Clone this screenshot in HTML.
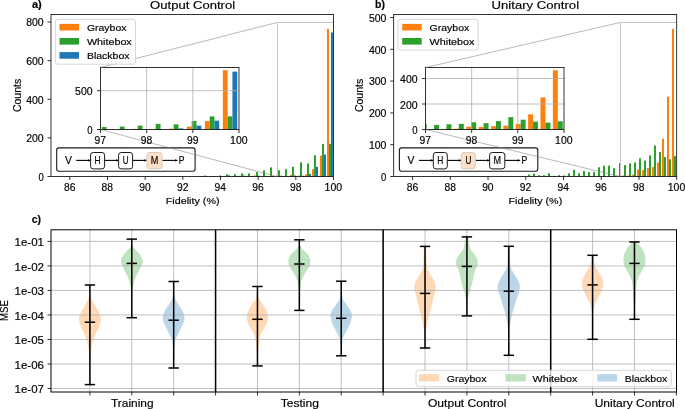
<!DOCTYPE html>
<html><head><meta charset="utf-8"><style>
html,body{margin:0;padding:0;background:#fff;}
svg{display:block;}
text{font-family:"Liberation Sans",sans-serif;fill:#000;stroke:#000;stroke-width:0.18px;}
</style></head><body>
<svg width="685" height="409" viewBox="0 0 685 409">
<rect width="685" height="409" fill="#fff"/>
<rect x="327.00" y="28.97" width="2.00" height="147.53" fill="#ff7f0e"/>
<rect x="329.00" y="143.87" width="2.00" height="32.63" fill="#2ca02c"/>
<rect x="331.00" y="32.45" width="2.00" height="144.05" fill="#1f77b4"/>
<rect x="320.00" y="155.65" width="2.00" height="20.85" fill="#ff7f0e"/>
<rect x="322.00" y="143.87" width="2.00" height="32.63" fill="#2ca02c"/>
<rect x="324.00" y="154.49" width="2.00" height="22.01" fill="#1f77b4"/>
<rect x="312.00" y="169.16" width="2.00" height="7.34" fill="#ff7f0e"/>
<rect x="314.00" y="155.26" width="2.00" height="21.24" fill="#2ca02c"/>
<rect x="316.00" y="166.84" width="2.00" height="9.66" fill="#1f77b4"/>
<rect x="305.00" y="174.38" width="2.00" height="2.12" fill="#ff7f0e"/>
<rect x="307.00" y="163.56" width="2.00" height="12.94" fill="#2ca02c"/>
<rect x="309.00" y="173.80" width="2.00" height="2.70" fill="#1f77b4"/>
<rect x="298.00" y="175.53" width="2.00" height="0.97" fill="#ff7f0e"/>
<rect x="300.00" y="162.40" width="2.00" height="14.10" fill="#2ca02c"/>
<rect x="302.00" y="175.73" width="2.00" height="0.77" fill="#1f77b4"/>
<rect x="290.00" y="174.96" width="2.00" height="1.54" fill="#ff7f0e"/>
<rect x="292.00" y="166.84" width="2.00" height="9.66" fill="#2ca02c"/>
<rect x="294.00" y="175.53" width="2.00" height="0.97" fill="#1f77b4"/>
<rect x="283.00" y="176.11" width="2.00" height="0.39" fill="#ff7f0e"/>
<rect x="285.00" y="169.16" width="2.00" height="7.34" fill="#2ca02c"/>
<rect x="287.00" y="176.11" width="2.00" height="0.39" fill="#1f77b4"/>
<rect x="276.00" y="175.53" width="2.00" height="0.97" fill="#ff7f0e"/>
<rect x="278.00" y="170.32" width="2.00" height="6.18" fill="#2ca02c"/>
<rect x="280.00" y="175.73" width="2.00" height="0.77" fill="#1f77b4"/>
<rect x="268.00" y="176.11" width="2.00" height="0.39" fill="#ff7f0e"/>
<rect x="270.00" y="167.42" width="2.00" height="9.08" fill="#2ca02c"/>
<rect x="272.00" y="175.92" width="2.00" height="0.58" fill="#1f77b4"/>
<rect x="261.00" y="176.11" width="2.00" height="0.39" fill="#ff7f0e"/>
<rect x="263.00" y="170.32" width="2.00" height="6.18" fill="#2ca02c"/>
<rect x="265.00" y="175.92" width="2.00" height="0.58" fill="#1f77b4"/>
<rect x="254.00" y="175.34" width="2.00" height="1.16" fill="#ff7f0e"/>
<rect x="256.00" y="172.06" width="2.00" height="4.44" fill="#2ca02c"/>
<rect x="258.00" y="175.73" width="2.00" height="0.77" fill="#1f77b4"/>
<rect x="246.00" y="176.11" width="2.00" height="0.39" fill="#ff7f0e"/>
<rect x="248.00" y="173.41" width="2.00" height="3.09" fill="#2ca02c"/>
<rect x="250.00" y="175.92" width="2.00" height="0.58" fill="#1f77b4"/>
<rect x="239.00" y="175.73" width="2.00" height="0.77" fill="#ff7f0e"/>
<rect x="241.00" y="173.41" width="2.00" height="3.09" fill="#2ca02c"/>
<rect x="243.00" y="175.53" width="2.00" height="0.97" fill="#1f77b4"/>
<rect x="232.00" y="176.11" width="2.00" height="0.39" fill="#ff7f0e"/>
<rect x="234.00" y="174.18" width="2.00" height="2.32" fill="#2ca02c"/>
<rect x="236.00" y="175.92" width="2.00" height="0.58" fill="#1f77b4"/>
<rect x="224.00" y="176.11" width="2.00" height="0.39" fill="#ff7f0e"/>
<rect x="226.00" y="174.38" width="2.00" height="2.12" fill="#2ca02c"/>
<rect x="228.00" y="175.34" width="2.00" height="1.16" fill="#1f77b4"/>
<rect x="217.00" y="176.31" width="2.00" height="0.19" fill="#ff7f0e"/>
<rect x="219.00" y="175.53" width="2.00" height="0.97" fill="#2ca02c"/>
<rect x="221.00" y="176.11" width="2.00" height="0.39" fill="#1f77b4"/>
<rect x="210.00" y="176.31" width="2.00" height="0.19" fill="#ff7f0e"/>
<rect x="212.00" y="176.11" width="2.00" height="0.39" fill="#2ca02c"/>
<rect x="214.00" y="176.31" width="2.00" height="0.19" fill="#1f77b4"/>
<rect x="202.00" y="176.31" width="2.00" height="0.19" fill="#ff7f0e"/>
<rect x="204.00" y="175.53" width="2.00" height="0.97" fill="#2ca02c"/>
<rect x="206.00" y="176.31" width="2.00" height="0.19" fill="#1f77b4"/>
<rect x="197.00" y="176.31" width="2.00" height="0.19" fill="#2ca02c"/>
<rect x="199.00" y="176.31" width="2.00" height="0.19" fill="#1f77b4"/>
<rect x="190.00" y="176.31" width="2.00" height="0.19" fill="#2ca02c"/>
<rect x="175.00" y="176.31" width="2.00" height="0.19" fill="#2ca02c"/>
<rect x="160.00" y="176.31" width="2.00" height="0.19" fill="#2ca02c"/>
<rect x="153.00" y="176.31" width="2.00" height="0.19" fill="#2ca02c"/>
<rect x="146.00" y="176.31" width="2.00" height="0.19" fill="#2ca02c"/>
<rect x="138.00" y="176.31" width="2.00" height="0.19" fill="#2ca02c"/>
<rect x="131.00" y="176.31" width="2.00" height="0.19" fill="#2ca02c"/>
<rect x="116.00" y="176.11" width="2.00" height="0.39" fill="#2ca02c"/>
<rect x="109.00" y="176.31" width="2.00" height="0.19" fill="#2ca02c"/>
<rect x="80.00" y="176.31" width="2.00" height="0.19" fill="#2ca02c"/>
<rect x="65.00" y="176.31" width="2.00" height="0.19" fill="#2ca02c"/>
<path d="M277.50,176.50 L277.50,22.50 L333.50,22.50" fill="none" stroke="#c4c4c4" stroke-width="1"/>
<rect x="51.00" y="14.50" width="282.50" height="162.00" fill="none" stroke="#000" stroke-width="0.8"/>
<line x1="69.83" y1="176.50" x2="69.83" y2="180.00" stroke="#000" stroke-width="0.8" />
<line x1="107.50" y1="176.50" x2="107.50" y2="180.00" stroke="#000" stroke-width="0.8" />
<line x1="145.16" y1="176.50" x2="145.16" y2="180.00" stroke="#000" stroke-width="0.8" />
<line x1="182.83" y1="176.50" x2="182.83" y2="180.00" stroke="#000" stroke-width="0.8" />
<line x1="220.50" y1="176.50" x2="220.50" y2="180.00" stroke="#000" stroke-width="0.8" />
<line x1="258.16" y1="176.50" x2="258.16" y2="180.00" stroke="#000" stroke-width="0.8" />
<line x1="295.83" y1="176.50" x2="295.83" y2="180.00" stroke="#000" stroke-width="0.8" />
<line x1="333.50" y1="176.50" x2="333.50" y2="180.00" stroke="#000" stroke-width="0.8" />
<line x1="47.50" y1="176.50" x2="51.00" y2="176.50" stroke="#000" stroke-width="0.8" />
<line x1="47.50" y1="137.88" x2="51.00" y2="137.88" stroke="#000" stroke-width="0.8" />
<line x1="47.50" y1="99.26" x2="51.00" y2="99.26" stroke="#000" stroke-width="0.8" />
<line x1="47.50" y1="60.64" x2="51.00" y2="60.64" stroke="#000" stroke-width="0.8" />
<line x1="47.50" y1="22.02" x2="51.00" y2="22.02" stroke="#000" stroke-width="0.8" />
<rect x="100.50" y="67.50" width="138.50" height="62.00" fill="#fff" />
<rect x="222.83" y="70.21" width="4.79" height="59.29" fill="#ff7f0e"/>
<rect x="227.63" y="116.39" width="4.79" height="13.11" fill="#2ca02c"/>
<rect x="232.42" y="71.61" width="4.79" height="57.89" fill="#1f77b4"/>
<rect x="204.86" y="121.12" width="4.79" height="8.38" fill="#ff7f0e"/>
<rect x="209.65" y="116.39" width="4.79" height="13.11" fill="#2ca02c"/>
<rect x="214.45" y="120.65" width="4.79" height="8.85" fill="#1f77b4"/>
<rect x="186.89" y="126.55" width="4.79" height="2.95" fill="#ff7f0e"/>
<rect x="191.68" y="120.96" width="4.79" height="8.54" fill="#2ca02c"/>
<rect x="196.47" y="125.62" width="4.79" height="3.88" fill="#1f77b4"/>
<rect x="168.91" y="128.65" width="4.79" height="0.85" fill="#ff7f0e"/>
<rect x="173.70" y="124.30" width="4.79" height="5.20" fill="#2ca02c"/>
<rect x="178.50" y="128.41" width="4.79" height="1.09" fill="#1f77b4"/>
<rect x="150.94" y="129.11" width="4.79" height="0.39" fill="#ff7f0e"/>
<rect x="155.73" y="123.84" width="4.79" height="5.66" fill="#2ca02c"/>
<rect x="160.52" y="129.19" width="4.79" height="0.31" fill="#1f77b4"/>
<rect x="132.96" y="128.88" width="4.79" height="0.62" fill="#ff7f0e"/>
<rect x="137.76" y="125.62" width="4.79" height="3.88" fill="#2ca02c"/>
<rect x="142.55" y="129.11" width="4.79" height="0.39" fill="#1f77b4"/>
<rect x="114.99" y="129.34" width="4.79" height="0.16" fill="#ff7f0e"/>
<rect x="119.78" y="126.55" width="4.79" height="2.95" fill="#2ca02c"/>
<rect x="124.58" y="129.34" width="4.79" height="0.16" fill="#1f77b4"/>
<rect x="100.50" y="129.11" width="1.31" height="0.39" fill="#ff7f0e"/>
<rect x="101.81" y="127.02" width="4.79" height="2.48" fill="#2ca02c"/>
<rect x="106.60" y="129.19" width="4.79" height="0.31" fill="#1f77b4"/>
<line x1="146.67" y1="67.50" x2="146.67" y2="129.50" stroke="#b0b0b0" stroke-width="0.8" />
<line x1="192.84" y1="67.50" x2="192.84" y2="129.50" stroke="#b0b0b0" stroke-width="0.8" />
<line x1="100.50" y1="90.70" x2="239.00" y2="90.70" stroke="#b0b0b0" stroke-width="0.8" />
<rect x="100.50" y="67.50" width="138.50" height="62.00" fill="none" stroke="#000" stroke-width="0.8"/>
<line x1="100.50" y1="129.50" x2="100.50" y2="133.00" stroke="#000" stroke-width="0.8" />
<line x1="146.67" y1="129.50" x2="146.67" y2="133.00" stroke="#000" stroke-width="0.8" />
<line x1="192.84" y1="129.50" x2="192.84" y2="133.00" stroke="#000" stroke-width="0.8" />
<line x1="239.01" y1="129.50" x2="239.01" y2="133.00" stroke="#000" stroke-width="0.8" />
<line x1="97.00" y1="129.50" x2="100.50" y2="129.50" stroke="#000" stroke-width="0.8" />
<line x1="97.00" y1="90.70" x2="100.50" y2="90.70" stroke="#000" stroke-width="0.8" />
<rect x="56.70" y="147.9" width="138.40" height="23.4" rx="2.2" fill="#fff" stroke="#1a1a1a" stroke-width="1.1"/>
<line x1="76.20" y1="160.40" x2="90.10" y2="160.40" stroke="#000" stroke-width="1.1" />
<path d="M88.00,159.30 L91.10,160.4 L88.00,161.50 Z" fill="#000"/>
<line x1="104.60" y1="160.40" x2="118.10" y2="160.40" stroke="#000" stroke-width="1.1" />
<path d="M116.00,159.30 L119.10,160.4 L116.00,161.50 Z" fill="#000"/>
<line x1="132.60" y1="160.40" x2="146.40" y2="160.40" stroke="#000" stroke-width="1.1" />
<path d="M144.30,159.30 L147.40,160.4 L144.30,161.50 Z" fill="#000"/>
<line x1="162.10" y1="160.40" x2="177.10" y2="160.40" stroke="#000" stroke-width="1.1" />
<path d="M175.00,159.30 L178.10,160.4 L175.00,161.50 Z" fill="#000"/>
<rect x="90.60" y="152.5" width="14.00" height="16.4" rx="2.6" fill="#fff" stroke="#1a1a1a" stroke-width="1.0"/>
<rect x="118.60" y="152.5" width="14.00" height="16.4" rx="2.6" fill="#fff" stroke="#1a1a1a" stroke-width="1.0"/>
<rect x="146.90" y="152.5" width="15.20" height="16.4" rx="2.6" fill="#fde0c6" stroke="#cfc7c0" stroke-width="0.9"/>
<line x1="100.50" y1="67.50" x2="277.00" y2="22.50" stroke="#808080" stroke-width="0.55"/>
<line x1="100.50" y1="129.50" x2="277.00" y2="176.50" stroke="#808080" stroke-width="0.55"/>
<rect x="55.30" y="19.3" width="80.2" height="44.90" rx="2.5" fill="#fff" fill-opacity="0.8" stroke="#cccccc" stroke-width="0.8"/>
<rect x="59.50" y="23.90" width="19.50" height="6.60" fill="#ff7f0e" />
<rect x="59.50" y="38.00" width="19.50" height="6.60" fill="#2ca02c" />
<rect x="59.50" y="52.10" width="19.50" height="6.60" fill="#1f77b4" />
<rect x="672.00" y="28.95" width="2.00" height="147.55" fill="#ff7f0e"/>
<rect x="674.00" y="156.15" width="2.00" height="20.35" fill="#2ca02c"/>
<rect x="667.00" y="96.68" width="2.00" height="79.82" fill="#ff7f0e"/>
<rect x="669.00" y="159.33" width="2.00" height="17.17" fill="#2ca02c"/>
<rect x="662.00" y="138.66" width="2.00" height="37.84" fill="#ff7f0e"/>
<rect x="664.00" y="157.10" width="2.00" height="19.40" fill="#2ca02c"/>
<rect x="657.00" y="162.51" width="2.00" height="13.99" fill="#ff7f0e"/>
<rect x="659.00" y="152.01" width="2.00" height="24.49" fill="#2ca02c"/>
<rect x="652.00" y="166.96" width="2.00" height="9.54" fill="#ff7f0e"/>
<rect x="654.00" y="145.65" width="2.00" height="30.85" fill="#2ca02c"/>
<rect x="647.00" y="168.23" width="2.00" height="8.27" fill="#ff7f0e"/>
<rect x="649.00" y="155.51" width="2.00" height="20.99" fill="#2ca02c"/>
<rect x="642.00" y="170.14" width="2.00" height="6.36" fill="#ff7f0e"/>
<rect x="644.00" y="160.60" width="2.00" height="15.90" fill="#2ca02c"/>
<rect x="637.00" y="169.50" width="2.00" height="7.00" fill="#ff7f0e"/>
<rect x="639.00" y="158.37" width="2.00" height="18.13" fill="#2ca02c"/>
<rect x="632.00" y="174.59" width="2.00" height="1.91" fill="#ff7f0e"/>
<rect x="634.00" y="162.51" width="2.00" height="13.99" fill="#2ca02c"/>
<rect x="627.00" y="175.55" width="2.00" height="0.95" fill="#ff7f0e"/>
<rect x="629.00" y="163.46" width="2.00" height="13.04" fill="#2ca02c"/>
<rect x="622.00" y="175.55" width="2.00" height="0.95" fill="#ff7f0e"/>
<rect x="624.00" y="165.05" width="2.00" height="11.45" fill="#2ca02c"/>
<rect x="617.00" y="175.86" width="2.00" height="0.64" fill="#ff7f0e"/>
<rect x="619.00" y="163.14" width="2.00" height="13.36" fill="#2ca02c"/>
<rect x="611.00" y="176.18" width="2.00" height="0.32" fill="#ff7f0e"/>
<rect x="613.00" y="168.23" width="2.00" height="8.27" fill="#2ca02c"/>
<rect x="608.00" y="165.69" width="2.00" height="10.81" fill="#2ca02c"/>
<rect x="603.00" y="165.69" width="2.00" height="10.81" fill="#2ca02c"/>
<rect x="598.00" y="167.28" width="2.00" height="9.22" fill="#2ca02c"/>
<rect x="593.00" y="172.05" width="2.00" height="4.45" fill="#2ca02c"/>
<rect x="588.00" y="172.05" width="2.00" height="4.45" fill="#2ca02c"/>
<rect x="583.00" y="171.09" width="2.00" height="5.41" fill="#2ca02c"/>
<rect x="578.00" y="173.32" width="2.00" height="3.18" fill="#2ca02c"/>
<rect x="573.00" y="169.82" width="2.00" height="6.68" fill="#2ca02c"/>
<rect x="568.00" y="173.32" width="2.00" height="3.18" fill="#2ca02c"/>
<rect x="563.00" y="175.55" width="2.00" height="0.95" fill="#2ca02c"/>
<rect x="558.00" y="175.23" width="2.00" height="1.27" fill="#2ca02c"/>
<rect x="553.00" y="175.86" width="2.00" height="0.64" fill="#2ca02c"/>
<rect x="548.00" y="173.32" width="2.00" height="3.18" fill="#2ca02c"/>
<rect x="543.00" y="175.23" width="2.00" height="1.27" fill="#2ca02c"/>
<rect x="538.00" y="175.23" width="2.00" height="1.27" fill="#2ca02c"/>
<rect x="533.00" y="173.64" width="2.00" height="2.86" fill="#2ca02c"/>
<rect x="528.00" y="174.59" width="2.00" height="1.91" fill="#2ca02c"/>
<rect x="522.00" y="175.86" width="2.00" height="0.64" fill="#2ca02c"/>
<rect x="517.00" y="176.18" width="2.00" height="0.32" fill="#2ca02c"/>
<rect x="507.00" y="176.18" width="2.00" height="0.32" fill="#2ca02c"/>
<rect x="502.00" y="176.18" width="2.00" height="0.32" fill="#2ca02c"/>
<rect x="482.00" y="176.18" width="2.00" height="0.32" fill="#2ca02c"/>
<path d="M620.50,176.50 L620.50,22.50 L676.70,22.50" fill="none" stroke="#c4c4c4" stroke-width="1"/>
<rect x="393.70" y="14.50" width="283.00" height="162.00" fill="none" stroke="#000" stroke-width="0.8"/>
<line x1="412.57" y1="176.50" x2="412.57" y2="180.00" stroke="#000" stroke-width="0.8" />
<line x1="450.30" y1="176.50" x2="450.30" y2="180.00" stroke="#000" stroke-width="0.8" />
<line x1="488.03" y1="176.50" x2="488.03" y2="180.00" stroke="#000" stroke-width="0.8" />
<line x1="525.77" y1="176.50" x2="525.77" y2="180.00" stroke="#000" stroke-width="0.8" />
<line x1="563.50" y1="176.50" x2="563.50" y2="180.00" stroke="#000" stroke-width="0.8" />
<line x1="601.24" y1="176.50" x2="601.24" y2="180.00" stroke="#000" stroke-width="0.8" />
<line x1="638.97" y1="176.50" x2="638.97" y2="180.00" stroke="#000" stroke-width="0.8" />
<line x1="676.70" y1="176.50" x2="676.70" y2="180.00" stroke="#000" stroke-width="0.8" />
<line x1="390.20" y1="176.50" x2="393.70" y2="176.50" stroke="#000" stroke-width="0.8" />
<line x1="390.20" y1="144.70" x2="393.70" y2="144.70" stroke="#000" stroke-width="0.8" />
<line x1="390.20" y1="112.90" x2="393.70" y2="112.90" stroke="#000" stroke-width="0.8" />
<line x1="390.20" y1="81.10" x2="393.70" y2="81.10" stroke="#000" stroke-width="0.8" />
<line x1="390.20" y1="49.30" x2="393.70" y2="49.30" stroke="#000" stroke-width="0.8" />
<line x1="390.20" y1="17.50" x2="393.70" y2="17.50" stroke="#000" stroke-width="0.8" />
<rect x="425.50" y="67.50" width="138.50" height="62.00" fill="#fff" />
<rect x="552.87" y="70.34" width="4.95" height="59.16" fill="#ff7f0e"/>
<rect x="557.82" y="121.34" width="4.95" height="8.16" fill="#2ca02c"/>
<rect x="540.50" y="97.50" width="4.95" height="32.00" fill="#ff7f0e"/>
<rect x="545.45" y="122.61" width="4.95" height="6.89" fill="#2ca02c"/>
<rect x="528.13" y="114.33" width="4.95" height="15.17" fill="#ff7f0e"/>
<rect x="533.08" y="121.72" width="4.95" height="7.78" fill="#2ca02c"/>
<rect x="515.75" y="123.89" width="4.95" height="5.61" fill="#ff7f0e"/>
<rect x="520.70" y="119.68" width="4.95" height="9.82" fill="#2ca02c"/>
<rect x="503.38" y="125.67" width="4.95" height="3.83" fill="#ff7f0e"/>
<rect x="508.33" y="117.13" width="4.95" height="12.37" fill="#2ca02c"/>
<rect x="491.01" y="126.19" width="4.95" height="3.31" fill="#ff7f0e"/>
<rect x="495.96" y="121.08" width="4.95" height="8.42" fill="#2ca02c"/>
<rect x="478.63" y="126.95" width="4.95" height="2.55" fill="#ff7f0e"/>
<rect x="483.58" y="123.12" width="4.95" height="6.38" fill="#2ca02c"/>
<rect x="466.26" y="126.69" width="4.95" height="2.81" fill="#ff7f0e"/>
<rect x="471.21" y="122.23" width="4.95" height="7.27" fill="#2ca02c"/>
<rect x="453.89" y="128.74" width="4.95" height="0.76" fill="#ff7f0e"/>
<rect x="458.83" y="123.89" width="4.95" height="5.61" fill="#2ca02c"/>
<rect x="441.51" y="129.12" width="4.95" height="0.38" fill="#ff7f0e"/>
<rect x="446.46" y="124.27" width="4.95" height="5.23" fill="#2ca02c"/>
<rect x="429.14" y="129.12" width="4.95" height="0.38" fill="#ff7f0e"/>
<rect x="434.09" y="124.91" width="4.95" height="4.59" fill="#2ca02c"/>
<rect x="425.50" y="124.14" width="1.16" height="5.36" fill="#2ca02c"/>
<line x1="471.67" y1="67.50" x2="471.67" y2="129.50" stroke="#b0b0b0" stroke-width="0.8" />
<line x1="517.84" y1="67.50" x2="517.84" y2="129.50" stroke="#b0b0b0" stroke-width="0.8" />
<line x1="425.50" y1="104.00" x2="564.00" y2="104.00" stroke="#b0b0b0" stroke-width="0.8" />
<line x1="425.50" y1="78.50" x2="564.00" y2="78.50" stroke="#b0b0b0" stroke-width="0.8" />
<rect x="425.50" y="67.50" width="138.50" height="62.00" fill="none" stroke="#000" stroke-width="0.8"/>
<line x1="425.50" y1="129.50" x2="425.50" y2="133.00" stroke="#000" stroke-width="0.8" />
<line x1="471.67" y1="129.50" x2="471.67" y2="133.00" stroke="#000" stroke-width="0.8" />
<line x1="517.84" y1="129.50" x2="517.84" y2="133.00" stroke="#000" stroke-width="0.8" />
<line x1="564.01" y1="129.50" x2="564.01" y2="133.00" stroke="#000" stroke-width="0.8" />
<line x1="422.00" y1="129.50" x2="425.50" y2="129.50" stroke="#000" stroke-width="0.8" />
<line x1="422.00" y1="104.00" x2="425.50" y2="104.00" stroke="#000" stroke-width="0.8" />
<line x1="422.00" y1="78.50" x2="425.50" y2="78.50" stroke="#000" stroke-width="0.8" />
<rect x="399.40" y="147.9" width="138.40" height="23.4" rx="2.2" fill="#fff" stroke="#1a1a1a" stroke-width="1.1"/>
<line x1="418.90" y1="160.40" x2="432.80" y2="160.40" stroke="#000" stroke-width="1.1" />
<path d="M430.70,159.30 L433.80,160.4 L430.70,161.50 Z" fill="#000"/>
<line x1="447.30" y1="160.40" x2="460.80" y2="160.40" stroke="#000" stroke-width="1.1" />
<path d="M458.70,159.30 L461.80,160.4 L458.70,161.50 Z" fill="#000"/>
<line x1="475.30" y1="160.40" x2="489.10" y2="160.40" stroke="#000" stroke-width="1.1" />
<path d="M487.00,159.30 L490.10,160.4 L487.00,161.50 Z" fill="#000"/>
<line x1="504.80" y1="160.40" x2="519.80" y2="160.40" stroke="#000" stroke-width="1.1" />
<path d="M517.70,159.30 L520.80,160.4 L517.70,161.50 Z" fill="#000"/>
<rect x="433.30" y="152.5" width="14.00" height="16.4" rx="2.6" fill="#fff" stroke="#1a1a1a" stroke-width="1.0"/>
<rect x="461.30" y="152.5" width="14.00" height="16.4" rx="2.6" fill="#fde0c6" stroke="#cfc7c0" stroke-width="0.9"/>
<rect x="489.60" y="152.5" width="15.20" height="16.4" rx="2.6" fill="#fff" stroke="#1a1a1a" stroke-width="1.0"/>
<line x1="425.50" y1="67.50" x2="620.10" y2="22.50" stroke="#808080" stroke-width="0.55"/>
<line x1="425.50" y1="129.50" x2="620.10" y2="176.50" stroke="#808080" stroke-width="0.55"/>
<rect x="398.00" y="19.3" width="80.2" height="30.80" rx="2.5" fill="#fff" fill-opacity="0.8" stroke="#cccccc" stroke-width="0.8"/>
<rect x="402.20" y="23.90" width="19.50" height="6.60" fill="#ff7f0e" />
<rect x="402.20" y="38.00" width="19.50" height="6.60" fill="#2ca02c" />
<polygon points="90.00,285.50 90.01,286.00 90.02,286.50 90.04,287.00 90.05,287.50 90.07,288.00 90.09,288.50 90.11,289.00 90.13,289.50 90.15,290.00 90.17,290.50 90.20,291.00 90.22,291.53 90.24,292.07 90.25,292.60 90.27,293.13 90.29,293.67 90.33,294.20 90.38,294.73 90.45,295.27 90.55,295.80 90.69,296.36 90.87,296.91 91.09,297.47 91.32,298.03 91.56,298.59 91.81,299.14 92.05,299.70 92.28,300.26 92.52,300.81 92.76,301.37 93.01,301.93 93.26,302.49 93.53,303.04 93.80,303.60 94.05,304.10 94.32,304.60 94.59,305.10 94.87,305.60 95.15,306.10 95.43,306.60 95.71,307.10 96.00,307.60 96.33,308.16 96.66,308.71 97.01,309.27 97.35,309.83 97.68,310.39 98.00,310.94 98.30,311.50 98.58,312.06 98.85,312.61 99.10,313.17 99.35,313.73 99.58,314.29 99.79,314.84 100.00,315.40 100.19,315.92 100.36,316.43 100.53,316.95 100.66,317.47 100.75,317.98 100.80,318.50 100.81,319.05 100.79,319.60 100.75,320.15 100.68,320.70 100.60,321.25 100.50,321.80 100.38,322.35 100.25,322.90 100.10,323.44 99.94,323.99 99.76,324.53 99.56,325.08 99.35,325.62 99.14,326.17 98.91,326.71 98.68,327.26 98.45,327.80 98.21,328.34 97.95,328.89 97.68,329.43 97.40,329.98 97.12,330.52 96.84,331.07 96.57,331.61 96.30,332.16 96.05,332.70 95.81,333.24 95.57,333.79 95.34,334.33 95.11,334.88 94.88,335.42 94.66,335.97 94.45,336.51 94.25,337.06 94.05,337.60 93.86,338.14 93.67,338.69 93.49,339.23 93.32,339.78 93.15,340.32 92.99,340.87 92.83,341.41 92.69,341.96 92.55,342.50 92.42,343.04 92.30,343.59 92.20,344.13 92.10,344.68 92.00,345.22 91.91,345.77 91.82,346.31 91.74,346.86 91.65,347.40 91.57,347.94 91.49,348.49 91.41,349.03 91.34,349.58 91.27,350.12 91.20,350.67 91.14,351.21 91.07,351.76 91.00,352.30 90.93,352.84 90.86,353.39 90.78,353.93 90.71,354.48 90.63,355.02 90.57,355.57 90.50,356.11 90.45,356.66 90.40,357.20 90.36,357.72 90.32,358.24 90.28,358.76 90.25,359.28 90.22,359.80 90.18,360.32 90.15,360.84 90.13,361.36 90.10,361.88 90.08,362.40 90.06,362.92 90.04,363.44 90.02,363.96 90.01,364.48 90.00,365.00 89.99,365.50 89.98,366.00 89.98,366.50 89.97,367.00 89.97,367.50 89.96,368.00 89.96,368.50 89.95,369.00 89.95,369.50 89.95,370.00 89.94,370.50 89.94,371.00 89.94,371.50 89.94,372.00 89.94,372.50 89.94,373.00 89.94,373.50 89.94,374.00 89.94,374.50 89.94,375.00 89.94,375.50 89.94,376.00 89.94,376.50 89.94,377.00 89.94,377.50 89.94,378.00 89.94,378.50 89.95,379.00 89.95,379.50 89.95,380.00 89.95,380.50 89.95,381.00 89.95,381.50 89.95,382.00 89.95,382.50 89.95,383.00 89.95,383.50 89.95,384.00 89.85,384.00 89.85,383.50 89.85,383.00 89.85,382.50 89.85,382.00 89.85,381.50 89.85,381.00 89.85,380.50 89.85,380.00 89.85,379.50 89.85,379.00 89.86,378.50 89.86,378.00 89.86,377.50 89.86,377.00 89.86,376.50 89.86,376.00 89.86,375.50 89.86,375.00 89.86,374.50 89.86,374.00 89.86,373.50 89.86,373.00 89.86,372.50 89.86,372.00 89.86,371.50 89.86,371.00 89.86,370.50 89.85,370.00 89.85,369.50 89.85,369.00 89.84,368.50 89.84,368.00 89.83,367.50 89.83,367.00 89.82,366.50 89.82,366.00 89.81,365.50 89.80,365.00 89.79,364.48 89.78,363.96 89.76,363.44 89.74,362.92 89.72,362.40 89.70,361.88 89.67,361.36 89.65,360.84 89.62,360.32 89.58,359.80 89.55,359.28 89.52,358.76 89.48,358.24 89.44,357.72 89.40,357.20 89.35,356.66 89.30,356.11 89.23,355.57 89.17,355.02 89.09,354.48 89.02,353.93 88.94,353.39 88.87,352.84 88.80,352.30 88.73,351.76 88.66,351.21 88.60,350.67 88.53,350.12 88.46,349.58 88.39,349.03 88.31,348.49 88.23,347.94 88.15,347.40 88.06,346.86 87.98,346.31 87.89,345.77 87.80,345.22 87.70,344.68 87.60,344.13 87.50,343.59 87.38,343.04 87.25,342.50 87.11,341.96 86.97,341.41 86.81,340.87 86.65,340.32 86.48,339.78 86.31,339.23 86.13,338.69 85.94,338.14 85.75,337.60 85.55,337.06 85.35,336.51 85.14,335.97 84.92,335.42 84.69,334.88 84.46,334.33 84.23,333.79 83.99,333.24 83.75,332.70 83.50,332.16 83.23,331.61 82.96,331.07 82.68,330.52 82.40,329.98 82.12,329.43 81.85,328.89 81.59,328.34 81.35,327.80 81.12,327.26 80.89,326.71 80.66,326.17 80.45,325.62 80.24,325.08 80.04,324.53 79.86,323.99 79.70,323.44 79.55,322.90 79.42,322.35 79.30,321.80 79.20,321.25 79.12,320.70 79.05,320.15 79.01,319.60 78.99,319.05 79.00,318.50 79.05,317.98 79.14,317.47 79.27,316.95 79.44,316.43 79.61,315.92 79.80,315.40 80.01,314.84 80.22,314.29 80.45,313.73 80.70,313.17 80.95,312.61 81.22,312.06 81.50,311.50 81.80,310.94 82.12,310.39 82.45,309.83 82.79,309.27 83.14,308.71 83.47,308.16 83.80,307.60 84.09,307.10 84.37,306.60 84.65,306.10 84.93,305.60 85.21,305.10 85.48,304.60 85.75,304.10 86.00,303.60 86.27,303.04 86.54,302.49 86.79,301.93 87.04,301.37 87.28,300.81 87.52,300.26 87.75,299.70 87.99,299.14 88.24,298.59 88.48,298.03 88.71,297.47 88.93,296.91 89.11,296.36 89.25,295.80 89.35,295.27 89.42,294.73 89.47,294.20 89.51,293.67 89.53,293.13 89.55,292.60 89.56,292.07 89.58,291.53 89.60,291.00 89.63,290.50 89.65,290.00 89.67,289.50 89.69,289.00 89.71,288.50 89.73,288.00 89.75,287.50 89.76,287.00 89.78,286.50 89.79,286.00 89.80,285.50" fill="#ff7f0e" fill-opacity="0.3"/>
<polygon points="131.89,239.50 131.91,240.00 131.94,240.50 131.98,241.00 132.02,241.50 132.07,242.00 132.13,242.50 132.19,243.00 132.27,243.50 132.36,244.00 132.46,244.50 132.57,245.00 132.69,245.50 132.85,246.15 133.09,246.80 133.48,247.50 133.99,248.20 134.66,248.90 135.39,249.60 136.10,250.30 136.79,251.00 137.40,251.65 137.99,252.30 138.61,253.00 139.19,253.70 139.71,254.40 140.19,255.10 140.60,255.75 140.99,256.40 141.41,257.10 141.79,257.80 142.06,258.50 142.29,259.20 142.51,259.85 142.69,260.50 142.79,261.20 142.79,261.90 142.71,262.40 142.57,262.90 142.39,263.40 142.18,263.94 141.94,264.48 141.70,265.02 141.45,265.56 141.19,266.10 140.92,266.64 140.64,267.18 140.35,267.72 140.06,268.26 139.79,268.80 139.52,269.36 139.26,269.92 139.01,270.48 138.75,271.04 138.49,271.60 138.23,272.14 137.98,272.68 137.72,273.22 137.45,273.76 137.19,274.30 136.91,274.86 136.62,275.42 136.33,275.98 136.05,276.54 135.79,277.10 135.55,277.64 135.32,278.18 135.10,278.72 134.89,279.26 134.69,279.80 134.50,280.34 134.32,280.88 134.15,281.42 133.99,281.96 133.84,282.50 133.70,283.06 133.57,283.62 133.46,284.18 133.35,284.74 133.24,285.30 133.14,285.84 133.04,286.38 132.95,286.92 132.87,287.46 132.79,288.00 132.72,288.50 132.66,289.00 132.60,289.50 132.54,290.00 132.49,290.50 132.43,291.00 132.38,291.50 132.32,292.00 132.27,292.50 132.22,293.00 132.17,293.50 132.14,294.00 132.11,294.50 132.09,295.00 132.06,295.50 132.04,296.00 132.02,296.50 132.01,297.00 131.99,297.50 131.98,298.00 131.97,298.50 131.96,299.00 131.95,299.50 131.94,300.00 131.93,300.50 131.93,301.00 131.92,301.50 131.92,302.00 131.91,302.50 131.91,303.00 131.90,303.50 131.90,304.00 131.89,304.50 131.89,305.00 131.89,305.50 131.88,306.00 131.88,306.50 131.88,307.00 131.87,307.50 131.87,308.00 131.87,308.50 131.87,309.00 131.86,309.50 131.86,310.00 131.86,310.50 131.86,311.00 131.86,311.50 131.85,312.00 131.85,312.50 131.85,313.00 131.85,313.50 131.85,314.00 131.85,314.50 131.85,315.00 131.84,315.50 131.84,316.00 131.84,316.50 131.84,317.00 131.74,317.00 131.74,316.50 131.74,316.00 131.74,315.50 131.73,315.00 131.73,314.50 131.73,314.00 131.73,313.50 131.73,313.00 131.73,312.50 131.73,312.00 131.72,311.50 131.72,311.00 131.72,310.50 131.72,310.00 131.72,309.50 131.71,309.00 131.71,308.50 131.71,308.00 131.71,307.50 131.70,307.00 131.70,306.50 131.70,306.00 131.69,305.50 131.69,305.00 131.69,304.50 131.68,304.00 131.68,303.50 131.67,303.00 131.67,302.50 131.66,302.00 131.66,301.50 131.65,301.00 131.65,300.50 131.64,300.00 131.63,299.50 131.62,299.00 131.61,298.50 131.60,298.00 131.59,297.50 131.57,297.00 131.56,296.50 131.54,296.00 131.52,295.50 131.49,295.00 131.47,294.50 131.44,294.00 131.41,293.50 131.36,293.00 131.31,292.50 131.26,292.00 131.20,291.50 131.15,291.00 131.09,290.50 131.04,290.00 130.98,289.50 130.92,289.00 130.86,288.50 130.79,288.00 130.71,287.46 130.63,286.92 130.54,286.38 130.44,285.84 130.34,285.30 130.23,284.74 130.12,284.18 130.01,283.62 129.88,283.06 129.74,282.50 129.59,281.96 129.43,281.42 129.26,280.88 129.08,280.34 128.89,279.80 128.69,279.26 128.48,278.72 128.26,278.18 128.03,277.64 127.79,277.10 127.53,276.54 127.25,275.98 126.96,275.42 126.67,274.86 126.39,274.30 126.13,273.76 125.86,273.22 125.60,272.68 125.35,272.14 125.09,271.60 124.83,271.04 124.57,270.48 124.32,269.92 124.06,269.36 123.79,268.80 123.52,268.26 123.23,267.72 122.94,267.18 122.66,266.64 122.39,266.10 122.13,265.56 121.88,265.02 121.64,264.48 121.40,263.94 121.19,263.40 121.01,262.90 120.87,262.40 120.79,261.90 120.79,261.20 120.89,260.50 121.07,259.85 121.29,259.20 121.52,258.50 121.79,257.80 122.17,257.10 122.59,256.40 122.98,255.75 123.39,255.10 123.87,254.40 124.39,253.70 124.97,253.00 125.59,252.30 126.18,251.65 126.79,251.00 127.48,250.30 128.19,249.60 128.92,248.90 129.59,248.20 130.10,247.50 130.49,246.80 130.73,246.15 130.89,245.50 131.01,245.00 131.12,244.50 131.22,244.00 131.31,243.50 131.39,243.00 131.45,242.50 131.51,242.00 131.56,241.50 131.60,241.00 131.64,240.50 131.67,240.00 131.69,239.50" fill="#2ca02c" fill-opacity="0.3"/>
<polygon points="173.78,282.00 173.79,282.50 173.79,283.00 173.80,283.50 173.80,284.00 173.81,284.50 173.82,285.00 173.82,285.50 173.83,286.00 173.84,286.50 173.85,287.00 173.87,287.50 173.89,288.00 173.90,288.50 173.93,289.00 173.95,289.50 173.98,290.00 174.01,290.52 174.05,291.05 174.08,291.57 174.12,292.09 174.16,292.62 174.21,293.14 174.26,293.66 174.31,294.18 174.37,294.71 174.44,295.23 174.51,295.75 174.59,296.28 174.68,296.80 174.81,297.38 174.99,297.96 175.20,298.54 175.43,299.12 175.68,299.70 175.94,300.28 176.23,300.86 176.53,301.44 176.85,302.02 177.18,302.60 177.47,303.10 177.78,303.60 178.09,304.10 178.41,304.60 178.74,305.10 179.08,305.60 179.49,306.18 179.92,306.76 180.36,307.34 180.79,307.92 181.18,308.50 181.54,309.08 181.88,309.66 182.20,310.24 182.50,310.82 182.78,311.40 183.00,311.90 183.20,312.40 183.39,312.90 183.57,313.40 183.73,313.90 183.88,314.40 184.04,314.98 184.20,315.56 184.33,316.14 184.43,316.72 184.48,317.30 184.49,317.88 184.45,318.46 184.38,319.04 184.29,319.62 184.18,320.20 184.06,320.78 183.92,321.36 183.76,321.94 183.58,322.52 183.38,323.10 183.18,323.60 182.96,324.10 182.72,324.60 182.47,325.10 182.22,325.60 181.98,326.10 181.70,326.68 181.43,327.26 181.15,327.84 180.87,328.42 180.58,329.00 180.28,329.58 179.98,330.16 179.67,330.74 179.37,331.32 179.08,331.90 178.84,332.40 178.61,332.90 178.38,333.40 178.15,333.90 177.92,334.40 177.68,334.90 177.38,335.48 177.07,336.06 176.75,336.64 176.45,337.22 176.18,337.80 175.94,338.38 175.72,338.96 175.52,339.54 175.34,340.12 175.18,340.70 175.04,341.28 174.93,341.86 174.84,342.44 174.76,343.02 174.68,343.60 174.61,344.15 174.53,344.70 174.47,345.25 174.40,345.80 174.34,346.35 174.28,346.90 174.23,347.45 174.18,348.00 174.14,348.50 174.10,349.00 174.06,349.50 174.02,350.00 173.99,350.50 173.96,351.00 173.93,351.50 173.91,352.00 173.89,352.50 173.88,353.00 173.87,353.50 173.86,354.00 173.85,354.50 173.84,355.00 173.83,355.50 173.82,356.00 173.81,356.50 173.81,357.00 173.80,357.50 173.80,358.00 173.79,358.50 173.78,359.00 173.78,359.50 173.77,360.00 173.77,360.50 173.77,361.00 173.76,361.50 173.76,362.00 173.76,362.50 173.75,363.00 173.75,363.50 173.75,364.00 173.75,364.50 173.74,365.00 173.74,365.50 173.74,366.00 173.74,366.50 173.73,367.00 173.73,367.50 173.63,367.50 173.63,367.00 173.62,366.50 173.62,366.00 173.62,365.50 173.62,365.00 173.61,364.50 173.61,364.00 173.61,363.50 173.61,363.00 173.60,362.50 173.60,362.00 173.60,361.50 173.59,361.00 173.59,360.50 173.59,360.00 173.58,359.50 173.58,359.00 173.57,358.50 173.56,358.00 173.56,357.50 173.55,357.00 173.55,356.50 173.54,356.00 173.53,355.50 173.52,355.00 173.51,354.50 173.50,354.00 173.49,353.50 173.48,353.00 173.47,352.50 173.45,352.00 173.43,351.50 173.40,351.00 173.37,350.50 173.34,350.00 173.30,349.50 173.26,349.00 173.22,348.50 173.18,348.00 173.13,347.45 173.08,346.90 173.02,346.35 172.96,345.80 172.89,345.25 172.83,344.70 172.75,344.15 172.68,343.60 172.60,343.02 172.52,342.44 172.43,341.86 172.32,341.28 172.18,340.70 172.02,340.12 171.84,339.54 171.64,338.96 171.42,338.38 171.18,337.80 170.91,337.22 170.61,336.64 170.29,336.06 169.98,335.48 169.68,334.90 169.44,334.40 169.21,333.90 168.98,333.40 168.75,332.90 168.52,332.40 168.28,331.90 167.99,331.32 167.69,330.74 167.38,330.16 167.08,329.58 166.78,329.00 166.49,328.42 166.21,327.84 165.93,327.26 165.66,326.68 165.38,326.10 165.14,325.60 164.89,325.10 164.64,324.60 164.40,324.10 164.18,323.60 163.98,323.10 163.78,322.52 163.60,321.94 163.44,321.36 163.30,320.78 163.18,320.20 163.07,319.62 162.98,319.04 162.91,318.46 162.87,317.88 162.88,317.30 162.93,316.72 163.03,316.14 163.16,315.56 163.32,314.98 163.48,314.40 163.63,313.90 163.79,313.40 163.97,312.90 164.16,312.40 164.36,311.90 164.58,311.40 164.86,310.82 165.16,310.24 165.48,309.66 165.82,309.08 166.18,308.50 166.57,307.92 167.00,307.34 167.44,306.76 167.87,306.18 168.28,305.60 168.62,305.10 168.95,304.60 169.27,304.10 169.58,303.60 169.89,303.10 170.18,302.60 170.51,302.02 170.83,301.44 171.13,300.86 171.42,300.28 171.68,299.70 171.93,299.12 172.16,298.54 172.37,297.96 172.55,297.38 172.68,296.80 172.77,296.28 172.85,295.75 172.92,295.23 172.99,294.71 173.05,294.18 173.10,293.66 173.15,293.14 173.20,292.62 173.24,292.09 173.28,291.57 173.31,291.05 173.35,290.52 173.38,290.00 173.41,289.50 173.43,289.00 173.46,288.50 173.47,288.00 173.49,287.50 173.51,287.00 173.52,286.50 173.53,286.00 173.54,285.50 173.54,285.00 173.55,284.50 173.56,284.00 173.56,283.50 173.57,283.00 173.57,282.50 173.58,282.00" fill="#1f77b4" fill-opacity="0.3"/>
<polygon points="257.56,287.00 257.58,287.50 257.60,288.00 257.62,288.50 257.65,289.00 257.68,289.50 257.71,290.00 257.75,290.50 257.78,291.00 257.82,291.50 257.86,292.00 257.90,292.56 257.95,293.11 257.99,293.67 258.05,294.23 258.11,294.79 258.18,295.34 258.26,295.90 258.35,296.48 258.45,297.06 258.57,297.64 258.74,298.22 258.96,298.80 259.26,299.38 259.62,299.96 260.02,300.54 260.44,301.12 260.86,301.70 261.29,302.28 261.74,302.86 262.19,303.44 262.64,304.02 263.06,304.60 263.40,305.10 263.74,305.60 264.06,306.10 264.37,306.60 264.67,307.10 264.96,307.60 265.27,308.18 265.57,308.76 265.84,309.34 266.11,309.92 266.36,310.50 266.61,311.08 266.85,311.66 267.08,312.24 267.28,312.82 267.46,313.40 267.59,313.90 267.70,314.40 267.79,314.90 267.86,315.40 267.92,315.90 267.96,316.40 267.99,316.98 267.99,317.56 267.97,318.14 267.93,318.72 267.86,319.30 267.77,319.88 267.65,320.46 267.50,321.04 267.34,321.62 267.16,322.20 266.96,322.78 266.74,323.36 266.50,323.94 266.24,324.52 265.96,325.10 265.69,325.60 265.40,326.10 265.09,326.60 264.77,327.10 264.46,327.60 264.16,328.10 263.83,328.68 263.50,329.26 263.18,329.84 262.86,330.42 262.56,331.00 262.26,331.58 261.97,332.16 261.69,332.74 261.41,333.32 261.16,333.90 260.95,334.40 260.75,334.90 260.57,335.40 260.39,335.90 260.22,336.40 260.06,336.90 259.89,337.48 259.74,338.06 259.60,338.64 259.47,339.22 259.36,339.80 259.26,340.38 259.18,340.96 259.10,341.54 259.03,342.12 258.96,342.70 258.89,343.28 258.82,343.86 258.75,344.44 258.68,345.02 258.61,345.60 258.54,346.15 258.48,346.70 258.41,347.25 258.35,347.80 258.28,348.35 258.22,348.90 258.16,349.45 258.11,350.00 258.07,350.50 258.02,351.00 257.99,351.50 257.95,352.00 257.91,352.50 257.88,353.00 257.85,353.50 257.82,354.00 257.79,354.50 257.76,355.00 257.73,355.50 257.71,356.00 257.68,356.50 257.66,357.00 257.64,357.50 257.62,358.00 257.60,358.50 257.59,359.00 257.57,359.50 257.56,360.00 257.55,360.50 257.54,361.00 257.53,361.50 257.53,362.00 257.52,362.50 257.52,363.00 257.52,363.50 257.52,364.00 257.51,364.50 257.51,365.00 257.51,365.50 257.41,365.50 257.41,365.00 257.41,364.50 257.40,364.00 257.40,363.50 257.40,363.00 257.40,362.50 257.39,362.00 257.39,361.50 257.38,361.00 257.37,360.50 257.36,360.00 257.35,359.50 257.33,359.00 257.32,358.50 257.30,358.00 257.28,357.50 257.26,357.00 257.24,356.50 257.21,356.00 257.19,355.50 257.16,355.00 257.13,354.50 257.10,354.00 257.07,353.50 257.04,353.00 257.01,352.50 256.97,352.00 256.93,351.50 256.90,351.00 256.85,350.50 256.81,350.00 256.76,349.45 256.70,348.90 256.64,348.35 256.57,347.80 256.51,347.25 256.44,346.70 256.38,346.15 256.31,345.60 256.24,345.02 256.17,344.44 256.10,343.86 256.03,343.28 255.96,342.70 255.89,342.12 255.82,341.54 255.74,340.96 255.66,340.38 255.56,339.80 255.45,339.22 255.32,338.64 255.18,338.06 255.03,337.48 254.86,336.90 254.70,336.40 254.53,335.90 254.35,335.40 254.17,334.90 253.97,334.40 253.76,333.90 253.51,333.32 253.23,332.74 252.95,332.16 252.66,331.58 252.36,331.00 252.06,330.42 251.74,329.84 251.42,329.26 251.09,328.68 250.76,328.10 250.46,327.60 250.15,327.10 249.83,326.60 249.52,326.10 249.23,325.60 248.96,325.10 248.68,324.52 248.42,323.94 248.18,323.36 247.96,322.78 247.76,322.20 247.58,321.62 247.42,321.04 247.27,320.46 247.15,319.88 247.06,319.30 246.99,318.72 246.95,318.14 246.93,317.56 246.93,316.98 246.96,316.40 247.00,315.90 247.06,315.40 247.13,314.90 247.22,314.40 247.33,313.90 247.46,313.40 247.64,312.82 247.84,312.24 248.07,311.66 248.31,311.08 248.56,310.50 248.81,309.92 249.08,309.34 249.35,308.76 249.65,308.18 249.96,307.60 250.25,307.10 250.55,306.60 250.86,306.10 251.18,305.60 251.52,305.10 251.86,304.60 252.28,304.02 252.73,303.44 253.18,302.86 253.63,302.28 254.06,301.70 254.48,301.12 254.90,300.54 255.30,299.96 255.66,299.38 255.96,298.80 256.18,298.22 256.35,297.64 256.47,297.06 256.57,296.48 256.66,295.90 256.74,295.34 256.81,294.79 256.87,294.23 256.93,293.67 256.97,293.11 257.02,292.56 257.06,292.00 257.10,291.50 257.14,291.00 257.17,290.50 257.21,290.00 257.24,289.50 257.27,289.00 257.30,288.50 257.32,288.00 257.34,287.50 257.36,287.00" fill="#ff7f0e" fill-opacity="0.3"/>
<polygon points="299.45,240.30 299.48,240.84 299.51,241.38 299.55,241.92 299.60,242.46 299.65,243.00 299.72,243.70 299.85,244.40 299.98,244.90 300.14,245.40 300.35,245.90 300.62,246.48 300.89,247.06 301.19,247.64 301.53,248.22 301.95,248.80 302.46,249.38 303.05,249.96 303.69,250.54 304.33,251.12 304.95,251.70 305.56,252.28 306.18,252.86 306.79,253.44 307.35,254.02 307.85,254.60 308.22,255.10 308.54,255.60 308.83,256.10 309.09,256.60 309.33,257.10 309.55,257.60 309.78,258.18 309.98,258.76 310.14,259.34 310.27,259.92 310.35,260.50 310.38,261.08 310.37,261.66 310.32,262.24 310.24,262.82 310.15,263.40 310.06,263.90 309.97,264.40 309.85,264.90 309.72,265.40 309.55,265.90 309.35,266.40 309.06,266.98 308.71,267.56 308.33,268.14 307.93,268.72 307.55,269.30 307.17,269.88 306.78,270.46 306.39,271.04 306.01,271.62 305.65,272.20 305.31,272.78 304.98,273.36 304.66,273.94 304.36,274.52 304.05,275.10 303.79,275.60 303.53,276.10 303.27,276.60 303.03,277.10 302.78,277.60 302.55,278.10 302.28,278.68 302.02,279.26 301.77,279.84 301.54,280.42 301.35,281.00 301.20,281.58 301.09,282.16 301.00,282.74 300.93,283.32 300.85,283.90 300.78,284.40 300.72,284.90 300.67,285.40 300.62,285.90 300.56,286.40 300.50,286.90 300.43,287.41 300.36,287.92 300.29,288.44 300.21,288.95 300.14,289.46 300.07,289.98 300.01,290.49 299.95,291.00 299.90,291.50 299.85,292.00 299.81,292.50 299.77,293.00 299.73,293.50 299.70,294.00 299.67,294.50 299.64,295.00 299.62,295.50 299.60,296.00 299.59,296.50 299.57,297.00 299.56,297.50 299.55,298.00 299.54,298.50 299.53,299.00 299.52,299.50 299.51,300.00 299.50,300.50 299.49,301.00 299.48,301.50 299.48,302.00 299.47,302.50 299.46,303.00 299.46,303.50 299.45,304.00 299.44,304.50 299.44,305.00 299.44,305.50 299.43,306.00 299.43,306.50 299.42,307.00 299.42,307.50 299.41,308.00 299.41,308.50 299.41,309.00 299.40,309.50 299.40,310.00 299.30,310.00 299.30,309.50 299.29,309.00 299.29,308.50 299.29,308.00 299.28,307.50 299.28,307.00 299.27,306.50 299.27,306.00 299.26,305.50 299.26,305.00 299.26,304.50 299.25,304.00 299.24,303.50 299.24,303.00 299.23,302.50 299.22,302.00 299.22,301.50 299.21,301.00 299.20,300.50 299.19,300.00 299.18,299.50 299.17,299.00 299.16,298.50 299.15,298.00 299.14,297.50 299.13,297.00 299.11,296.50 299.10,296.00 299.08,295.50 299.06,295.00 299.03,294.50 299.00,294.00 298.97,293.50 298.93,293.00 298.89,292.50 298.85,292.00 298.80,291.50 298.75,291.00 298.69,290.49 298.63,289.98 298.56,289.46 298.49,288.95 298.41,288.44 298.34,287.92 298.27,287.41 298.20,286.90 298.14,286.40 298.08,285.90 298.03,285.40 297.98,284.90 297.92,284.40 297.85,283.90 297.77,283.32 297.70,282.74 297.61,282.16 297.50,281.58 297.35,281.00 297.16,280.42 296.93,279.84 296.68,279.26 296.42,278.68 296.15,278.10 295.92,277.60 295.67,277.10 295.43,276.60 295.17,276.10 294.91,275.60 294.65,275.10 294.34,274.52 294.04,273.94 293.72,273.36 293.39,272.78 293.05,272.20 292.69,271.62 292.31,271.04 291.92,270.46 291.53,269.88 291.15,269.30 290.77,268.72 290.37,268.14 289.99,267.56 289.64,266.98 289.35,266.40 289.15,265.90 288.98,265.40 288.85,264.90 288.73,264.40 288.64,263.90 288.55,263.40 288.46,262.82 288.38,262.24 288.33,261.66 288.32,261.08 288.35,260.50 288.43,259.92 288.56,259.34 288.72,258.76 288.92,258.18 289.15,257.60 289.37,257.10 289.61,256.60 289.87,256.10 290.16,255.60 290.48,255.10 290.85,254.60 291.35,254.02 291.91,253.44 292.52,252.86 293.14,252.28 293.75,251.70 294.37,251.12 295.01,250.54 295.65,249.96 296.24,249.38 296.75,248.80 297.17,248.22 297.51,247.64 297.81,247.06 298.08,246.48 298.35,245.90 298.56,245.40 298.72,244.90 298.85,244.40 298.98,243.70 299.05,243.00 299.10,242.46 299.15,241.92 299.19,241.38 299.22,240.84 299.25,240.30" fill="#2ca02c" fill-opacity="0.3"/>
<polygon points="341.34,281.70 341.35,282.22 341.36,282.74 341.37,283.26 341.39,283.77 341.40,284.29 341.42,284.81 341.44,285.33 341.46,285.85 341.47,286.37 341.50,286.89 341.52,287.41 341.54,287.93 341.56,288.44 341.59,288.96 341.61,289.48 341.64,290.00 341.67,290.53 341.70,291.06 341.73,291.59 341.76,292.12 341.80,292.65 341.84,293.18 341.88,293.71 341.93,294.24 341.98,294.77 342.04,295.30 342.14,295.80 342.29,296.30 342.44,296.80 342.57,297.38 342.67,297.96 342.78,298.54 342.93,299.12 343.14,299.70 343.42,300.28 343.76,300.86 344.14,301.44 344.54,302.02 344.94,302.60 345.29,303.10 345.65,303.60 346.01,304.10 346.39,304.60 346.77,305.10 347.14,305.60 347.58,306.18 348.04,306.76 348.50,307.34 348.94,307.92 349.34,308.50 349.71,309.08 350.06,309.66 350.39,310.24 350.68,310.82 350.94,311.40 351.13,311.90 351.29,312.40 351.43,312.90 351.55,313.40 351.65,313.90 351.74,314.40 351.83,314.98 351.91,315.56 351.95,316.14 351.97,316.72 351.94,317.30 351.86,317.88 351.73,318.46 351.58,319.04 351.41,319.62 351.24,320.20 351.08,320.78 350.91,321.36 350.74,321.94 350.55,322.52 350.34,323.10 350.15,323.60 349.94,324.10 349.73,324.60 349.51,325.10 349.28,325.60 349.04,326.10 348.76,326.68 348.46,327.26 348.16,327.84 347.85,328.42 347.54,329.00 347.22,329.58 346.90,330.16 346.57,330.74 346.25,331.32 345.94,331.90 345.68,332.40 345.42,332.90 345.17,333.40 344.92,333.90 344.68,334.40 344.44,334.90 344.16,335.48 343.88,336.06 343.60,336.64 343.35,337.22 343.14,337.80 342.97,338.38 342.84,338.96 342.72,339.54 342.63,340.12 342.54,340.70 342.46,341.28 342.40,341.86 342.35,342.44 342.30,343.02 342.24,343.60 342.18,344.15 342.11,344.70 342.05,345.25 341.98,345.80 341.92,346.35 341.85,346.90 341.79,347.45 341.74,348.00 341.69,348.50 341.65,349.00 341.61,349.50 341.57,350.00 341.54,350.50 341.50,351.00 341.47,351.50 341.44,352.00 341.41,352.55 341.38,353.10 341.35,353.65 341.32,354.20 341.31,354.75 341.29,355.30 341.19,355.30 341.17,354.75 341.16,354.20 341.13,353.65 341.10,353.10 341.07,352.55 341.04,352.00 341.01,351.50 340.98,351.00 340.94,350.50 340.91,350.00 340.87,349.50 340.83,349.00 340.79,348.50 340.74,348.00 340.69,347.45 340.63,346.90 340.56,346.35 340.50,345.80 340.43,345.25 340.37,344.70 340.30,344.15 340.24,343.60 340.18,343.02 340.13,342.44 340.08,341.86 340.02,341.28 339.94,340.70 339.85,340.12 339.76,339.54 339.64,338.96 339.51,338.38 339.34,337.80 339.13,337.22 338.88,336.64 338.60,336.06 338.32,335.48 338.04,334.90 337.80,334.40 337.56,333.90 337.31,333.40 337.06,332.90 336.80,332.40 336.54,331.90 336.23,331.32 335.91,330.74 335.58,330.16 335.26,329.58 334.94,329.00 334.63,328.42 334.32,327.84 334.02,327.26 333.72,326.68 333.44,326.10 333.20,325.60 332.97,325.10 332.75,324.60 332.54,324.10 332.33,323.60 332.14,323.10 331.93,322.52 331.74,321.94 331.57,321.36 331.40,320.78 331.24,320.20 331.07,319.62 330.90,319.04 330.75,318.46 330.62,317.88 330.54,317.30 330.51,316.72 330.53,316.14 330.57,315.56 330.65,314.98 330.74,314.40 330.83,313.90 330.93,313.40 331.05,312.90 331.19,312.40 331.35,311.90 331.54,311.40 331.80,310.82 332.09,310.24 332.42,309.66 332.77,309.08 333.14,308.50 333.54,307.92 333.98,307.34 334.44,306.76 334.90,306.18 335.34,305.60 335.71,305.10 336.09,304.60 336.47,304.10 336.83,303.60 337.19,303.10 337.54,302.60 337.94,302.02 338.34,301.44 338.72,300.86 339.06,300.28 339.34,299.70 339.55,299.12 339.70,298.54 339.81,297.96 339.91,297.38 340.04,296.80 340.19,296.30 340.34,295.80 340.44,295.30 340.50,294.77 340.55,294.24 340.60,293.71 340.64,293.18 340.68,292.65 340.72,292.12 340.75,291.59 340.78,291.06 340.81,290.53 340.84,290.00 340.87,289.48 340.89,288.96 340.92,288.44 340.94,287.93 340.96,287.41 340.98,286.89 341.01,286.37 341.02,285.85 341.04,285.33 341.06,284.81 341.08,284.29 341.09,283.77 341.11,283.26 341.12,282.74 341.13,282.22 341.14,281.70" fill="#1f77b4" fill-opacity="0.3"/>
<polygon points="426.12,246.90 426.13,247.41 426.14,247.93 426.15,248.44 426.16,248.95 426.18,249.46 426.19,249.97 426.21,250.49 426.22,251.00 426.24,251.54 426.25,252.09 426.27,252.63 426.28,253.18 426.30,253.72 426.31,254.27 426.33,254.81 426.35,255.36 426.37,255.90 426.39,256.43 426.41,256.95 426.43,257.48 426.45,258.01 426.47,258.54 426.49,259.06 426.51,259.59 426.53,260.12 426.56,260.65 426.59,261.17 426.62,261.70 426.66,262.28 426.72,262.86 426.78,263.44 426.85,264.02 426.92,264.60 426.98,265.10 427.03,265.60 427.08,266.10 427.14,266.60 427.22,267.10 427.32,267.60 427.46,268.18 427.61,268.76 427.79,269.34 427.99,269.92 428.22,270.50 428.48,271.08 428.77,271.66 429.08,272.24 429.40,272.82 429.72,273.40 429.99,273.90 430.27,274.40 430.55,274.90 430.84,275.40 431.13,275.90 431.42,276.40 431.77,276.98 432.14,277.56 432.51,278.14 432.88,278.72 433.22,279.30 433.55,279.88 433.88,280.46 434.18,281.04 434.47,281.62 434.72,282.20 434.93,282.78 435.12,283.36 435.27,283.94 435.40,284.52 435.52,285.10 435.61,285.60 435.69,286.10 435.76,286.60 435.81,287.10 435.83,287.60 435.82,288.10 435.76,288.68 435.65,289.26 435.52,289.84 435.37,290.42 435.22,291.00 435.07,291.58 434.91,292.16 434.75,292.74 434.58,293.32 434.42,293.90 434.28,294.40 434.14,294.90 434.00,295.40 433.87,295.90 433.74,296.40 433.62,296.90 433.51,297.42 433.42,297.93 433.33,298.45 433.24,298.97 433.14,299.48 433.02,300.00 432.89,300.50 432.74,301.00 432.58,301.50 432.42,302.00 432.26,302.50 432.12,303.00 431.99,303.50 431.87,304.00 431.76,304.50 431.65,305.00 431.54,305.50 431.42,306.00 431.28,306.56 431.14,307.12 431.00,307.68 430.86,308.24 430.72,308.80 430.58,309.38 430.44,309.96 430.30,310.54 430.16,311.12 430.02,311.70 429.88,312.24 429.75,312.77 429.61,313.31 429.47,313.85 429.33,314.38 429.19,314.92 429.05,315.45 428.91,315.99 428.78,316.53 428.65,317.06 428.52,317.60 428.40,318.13 428.28,318.65 428.17,319.18 428.05,319.71 427.94,320.24 427.84,320.76 427.73,321.29 427.62,321.82 427.52,322.35 427.42,322.87 427.32,323.40 427.22,323.94 427.12,324.47 427.02,325.01 426.93,325.55 426.83,326.08 426.74,326.62 426.65,327.15 426.57,327.69 426.48,328.23 426.40,328.76 426.32,329.30 426.24,329.83 426.17,330.35 426.10,330.88 426.03,331.41 425.96,331.94 425.90,332.46 425.84,332.99 425.78,333.52 425.72,334.05 425.67,334.57 425.62,335.10 425.57,335.64 425.53,336.19 425.49,336.73 425.45,337.28 425.42,337.82 425.39,338.37 425.37,338.91 425.34,339.46 425.32,340.00 425.30,340.50 425.28,341.00 425.26,341.50 425.25,342.00 425.23,342.50 425.22,343.00 425.20,343.50 425.19,344.00 425.18,344.50 425.16,345.00 425.15,345.50 425.14,346.00 425.14,346.50 425.13,347.00 425.12,347.50 424.92,347.50 424.91,347.00 424.90,346.50 424.90,346.00 424.89,345.50 424.88,345.00 424.86,344.50 424.85,344.00 424.84,343.50 424.82,343.00 424.81,342.50 424.79,342.00 424.78,341.50 424.76,341.00 424.74,340.50 424.72,340.00 424.70,339.46 424.67,338.91 424.65,338.37 424.62,337.82 424.59,337.28 424.55,336.73 424.51,336.19 424.47,335.64 424.42,335.10 424.37,334.57 424.32,334.05 424.26,333.52 424.20,332.99 424.14,332.46 424.08,331.94 424.01,331.41 423.94,330.88 423.87,330.35 423.80,329.83 423.72,329.30 423.64,328.76 423.56,328.23 423.47,327.69 423.39,327.15 423.30,326.62 423.21,326.08 423.11,325.55 423.02,325.01 422.92,324.47 422.82,323.94 422.72,323.40 422.62,322.87 422.52,322.35 422.42,321.82 422.31,321.29 422.20,320.76 422.10,320.24 421.99,319.71 421.87,319.18 421.76,318.65 421.64,318.13 421.52,317.60 421.39,317.06 421.26,316.53 421.13,315.99 420.99,315.45 420.85,314.92 420.71,314.38 420.57,313.85 420.43,313.31 420.29,312.77 420.16,312.24 420.02,311.70 419.88,311.12 419.74,310.54 419.60,309.96 419.46,309.38 419.32,308.80 419.18,308.24 419.04,307.68 418.90,307.12 418.76,306.56 418.62,306.00 418.50,305.50 418.39,305.00 418.28,304.50 418.17,304.00 418.05,303.50 417.92,303.00 417.78,302.50 417.62,302.00 417.46,301.50 417.30,301.00 417.15,300.50 417.02,300.00 416.90,299.48 416.80,298.97 416.71,298.45 416.62,297.93 416.53,297.42 416.42,296.90 416.30,296.40 416.17,295.90 416.04,295.40 415.90,294.90 415.76,294.40 415.62,293.90 415.46,293.32 415.29,292.74 415.13,292.16 414.97,291.58 414.82,291.00 414.67,290.42 414.52,289.84 414.39,289.26 414.28,288.68 414.22,288.10 414.21,287.60 414.23,287.10 414.28,286.60 414.35,286.10 414.43,285.60 414.52,285.10 414.64,284.52 414.77,283.94 414.92,283.36 415.11,282.78 415.32,282.20 415.57,281.62 415.86,281.04 416.16,280.46 416.49,279.88 416.82,279.30 417.16,278.72 417.53,278.14 417.90,277.56 418.27,276.98 418.62,276.40 418.91,275.90 419.20,275.40 419.49,274.90 419.77,274.40 420.05,273.90 420.32,273.40 420.64,272.82 420.96,272.24 421.27,271.66 421.56,271.08 421.82,270.50 422.05,269.92 422.25,269.34 422.43,268.76 422.58,268.18 422.72,267.60 422.82,267.10 422.90,266.60 422.96,266.10 423.01,265.60 423.06,265.10 423.12,264.60 423.19,264.02 423.26,263.44 423.32,262.86 423.38,262.28 423.42,261.70 423.45,261.17 423.48,260.65 423.51,260.12 423.53,259.59 423.55,259.06 423.57,258.54 423.59,258.01 423.61,257.48 423.63,256.95 423.65,256.43 423.67,255.90 423.69,255.36 423.71,254.81 423.73,254.27 423.74,253.72 423.76,253.18 423.77,252.63 423.79,252.09 423.80,251.54 423.82,251.00 423.83,250.49 423.85,249.97 423.86,249.46 423.88,248.95 423.89,248.44 423.90,247.93 423.91,247.41 423.92,246.90" fill="#ff7f0e" fill-opacity="0.3"/>
<polygon points="468.41,237.40 468.47,237.90 468.55,238.40 468.64,238.90 468.74,239.40 468.83,239.90 468.91,240.40 468.98,240.98 469.03,241.56 469.08,242.14 469.14,242.72 469.21,243.30 469.29,243.88 469.37,244.46 469.47,245.04 469.58,245.62 469.71,246.20 469.84,246.70 469.97,247.20 470.12,247.70 470.29,248.20 470.48,248.70 470.71,249.20 471.02,249.78 471.39,250.36 471.78,250.94 472.20,251.52 472.61,252.10 473.04,252.68 473.49,253.26 473.95,253.84 474.40,254.42 474.81,255.00 475.15,255.50 475.47,256.00 475.79,256.50 476.08,257.00 476.36,257.50 476.61,258.00 476.87,258.58 477.11,259.16 477.31,259.74 477.48,260.32 477.61,260.90 477.70,261.48 477.76,262.06 477.78,262.64 477.76,263.22 477.71,263.80 477.62,264.38 477.49,264.96 477.32,265.54 477.13,266.12 476.91,266.70 476.69,267.20 476.44,267.70 476.17,268.20 475.90,268.70 475.64,269.20 475.41,269.70 475.18,270.28 474.97,270.86 474.77,271.44 474.59,272.02 474.41,272.60 474.23,273.18 474.06,273.76 473.89,274.34 473.74,274.92 473.61,275.50 473.52,276.00 473.45,276.50 473.40,277.00 473.34,277.50 473.28,278.00 473.21,278.50 473.11,279.08 472.99,279.66 472.87,280.24 472.74,280.82 472.61,281.40 472.48,281.98 472.35,282.56 472.21,283.14 472.06,283.72 471.91,284.30 471.74,284.88 471.56,285.46 471.38,286.04 471.19,286.62 471.01,287.20 470.86,287.70 470.71,288.20 470.56,288.70 470.41,289.20 470.26,289.70 470.11,290.20 469.93,290.78 469.74,291.36 469.56,291.94 469.38,292.52 469.21,293.10 469.05,293.68 468.90,294.26 468.76,294.84 468.63,295.42 468.51,296.00 468.41,296.50 468.31,297.00 468.22,297.50 468.13,298.00 468.04,298.50 467.96,299.00 467.88,299.50 467.81,300.00 467.75,300.50 467.68,301.00 467.63,301.50 467.57,302.00 467.52,302.50 467.48,303.00 467.43,303.50 467.39,304.00 467.35,304.50 467.31,305.00 467.27,305.50 467.24,306.00 467.21,306.50 467.18,307.00 467.16,307.50 467.14,308.00 467.12,308.50 467.10,309.00 467.08,309.50 467.06,310.00 467.04,310.54 467.03,311.08 467.01,311.62 467.00,312.16 466.99,312.70 466.98,313.24 466.98,313.78 466.97,314.32 466.97,314.86 466.96,315.40 466.86,315.40 466.85,314.86 466.85,314.32 466.84,313.78 466.84,313.24 466.83,312.70 466.82,312.16 466.81,311.62 466.79,311.08 466.78,310.54 466.76,310.00 466.74,309.50 466.72,309.00 466.70,308.50 466.68,308.00 466.66,307.50 466.64,307.00 466.61,306.50 466.58,306.00 466.55,305.50 466.51,305.00 466.47,304.50 466.43,304.00 466.39,303.50 466.34,303.00 466.30,302.50 466.25,302.00 466.19,301.50 466.14,301.00 466.07,300.50 466.01,300.00 465.94,299.50 465.86,299.00 465.78,298.50 465.69,298.00 465.60,297.50 465.51,297.00 465.41,296.50 465.31,296.00 465.19,295.42 465.06,294.84 464.92,294.26 464.77,293.68 464.61,293.10 464.44,292.52 464.26,291.94 464.08,291.36 463.89,290.78 463.71,290.20 463.56,289.70 463.41,289.20 463.26,288.70 463.11,288.20 462.96,287.70 462.81,287.20 462.63,286.62 462.44,286.04 462.26,285.46 462.08,284.88 461.91,284.30 461.76,283.72 461.61,283.14 461.47,282.56 461.34,281.98 461.21,281.40 461.08,280.82 460.95,280.24 460.83,279.66 460.71,279.08 460.61,278.50 460.54,278.00 460.48,277.50 460.42,277.00 460.37,276.50 460.30,276.00 460.21,275.50 460.08,274.92 459.93,274.34 459.76,273.76 459.59,273.18 459.41,272.60 459.23,272.02 459.05,271.44 458.85,270.86 458.64,270.28 458.41,269.70 458.18,269.20 457.92,268.70 457.65,268.20 457.38,267.70 457.13,267.20 456.91,266.70 456.69,266.12 456.50,265.54 456.33,264.96 456.20,264.38 456.11,263.80 456.06,263.22 456.04,262.64 456.06,262.06 456.12,261.48 456.21,260.90 456.34,260.32 456.51,259.74 456.71,259.16 456.95,258.58 457.21,258.00 457.46,257.50 457.74,257.00 458.03,256.50 458.35,256.00 458.67,255.50 459.01,255.00 459.42,254.42 459.87,253.84 460.33,253.26 460.78,252.68 461.21,252.10 461.62,251.52 462.04,250.94 462.43,250.36 462.80,249.78 463.11,249.20 463.34,248.70 463.53,248.20 463.70,247.70 463.85,247.20 463.98,246.70 464.11,246.20 464.24,245.62 464.35,245.04 464.45,244.46 464.53,243.88 464.61,243.30 464.68,242.72 464.74,242.14 464.79,241.56 464.84,240.98 464.91,240.40 464.99,239.90 465.08,239.40 465.18,238.90 465.27,238.40 465.35,237.90 465.41,237.40" fill="#2ca02c" fill-opacity="0.3"/>
<polygon points="509.80,246.80 509.81,247.32 509.81,247.84 509.82,248.36 509.83,248.88 509.84,249.40 509.86,249.92 509.87,250.44 509.88,250.96 509.89,251.48 509.90,252.00 509.91,252.50 509.92,253.00 509.92,253.50 509.93,254.00 509.93,254.50 509.94,255.00 509.95,255.50 509.96,256.00 509.96,256.50 509.97,257.00 509.99,257.50 510.00,258.00 510.02,258.53 510.03,259.05 510.05,259.58 510.06,260.11 510.08,260.64 510.10,261.16 510.12,261.69 510.15,262.22 510.18,262.75 510.21,263.27 510.25,263.80 510.31,264.38 510.38,264.96 510.47,265.54 510.57,266.12 510.70,266.70 510.84,267.28 511.00,267.86 511.17,268.44 511.37,269.02 511.60,269.60 511.82,270.10 512.07,270.60 512.34,271.10 512.62,271.60 512.90,272.10 513.20,272.60 513.56,273.18 513.93,273.76 514.32,274.34 514.71,274.92 515.10,275.50 515.49,276.08 515.88,276.66 516.27,277.24 516.65,277.82 517.00,278.40 517.28,278.90 517.55,279.40 517.81,279.90 518.05,280.40 518.28,280.90 518.50,281.40 518.74,281.98 518.97,282.56 519.17,283.14 519.35,283.72 519.50,284.30 519.62,284.88 519.71,285.46 519.77,286.04 519.80,286.62 519.80,287.20 519.76,287.78 519.67,288.36 519.56,288.94 519.43,289.52 519.30,290.10 519.18,290.60 519.06,291.10 518.93,291.60 518.79,292.10 518.64,292.60 518.50,293.10 518.33,293.68 518.15,294.26 517.97,294.84 517.78,295.42 517.60,296.00 517.42,296.58 517.24,297.16 517.06,297.74 516.88,298.32 516.70,298.90 516.55,299.40 516.40,299.90 516.25,300.40 516.10,300.90 515.95,301.40 515.80,301.90 515.62,302.48 515.44,303.06 515.25,303.64 515.07,304.22 514.90,304.80 514.74,305.38 514.58,305.96 514.42,306.54 514.26,307.12 514.10,307.70 513.93,308.28 513.75,308.86 513.56,309.44 513.38,310.02 513.20,310.60 513.05,311.10 512.89,311.60 512.74,312.10 512.58,312.60 512.44,313.10 512.30,313.60 512.15,314.17 512.01,314.73 511.88,315.30 511.75,315.87 511.62,316.43 511.50,317.00 511.39,317.50 511.29,318.00 511.18,318.50 511.09,319.00 510.99,319.50 510.90,320.00 510.81,320.50 510.72,321.00 510.63,321.50 510.55,322.00 510.46,322.50 510.37,323.00 510.29,323.50 510.21,324.00 510.13,324.50 510.05,325.00 509.97,325.50 509.90,326.00 509.83,326.50 509.76,327.00 509.69,327.50 509.62,328.00 509.56,328.50 509.49,329.00 509.43,329.50 509.38,330.00 509.33,330.50 509.28,331.00 509.24,331.50 509.20,332.00 509.17,332.50 509.14,333.00 509.11,333.50 509.09,334.00 509.07,334.50 509.05,335.00 509.04,335.50 509.02,336.00 509.01,336.50 509.00,337.00 508.99,337.50 508.98,338.00 508.97,338.50 508.97,339.00 508.96,339.50 508.95,340.00 508.94,340.51 508.94,341.02 508.93,341.53 508.92,342.04 508.92,342.55 508.91,343.06 508.91,343.57 508.90,344.08 508.90,344.59 508.89,345.10 508.89,345.61 508.89,346.12 508.88,346.63 508.88,347.14 508.88,347.66 508.87,348.17 508.87,348.68 508.87,349.19 508.87,349.70 508.87,350.21 508.86,350.72 508.86,351.23 508.86,351.74 508.86,352.25 508.86,352.76 508.85,353.27 508.85,353.78 508.85,354.29 508.85,354.80 508.75,354.80 508.75,354.29 508.75,353.78 508.75,353.27 508.74,352.76 508.74,352.25 508.74,351.74 508.74,351.23 508.74,350.72 508.73,350.21 508.73,349.70 508.73,349.19 508.73,348.68 508.73,348.17 508.72,347.66 508.72,347.14 508.72,346.63 508.71,346.12 508.71,345.61 508.71,345.10 508.70,344.59 508.70,344.08 508.69,343.57 508.69,343.06 508.68,342.55 508.68,342.04 508.67,341.53 508.66,341.02 508.66,340.51 508.65,340.00 508.64,339.50 508.63,339.00 508.63,338.50 508.62,338.00 508.61,337.50 508.60,337.00 508.59,336.50 508.58,336.00 508.56,335.50 508.55,335.00 508.53,334.50 508.51,334.00 508.49,333.50 508.46,333.00 508.43,332.50 508.40,332.00 508.36,331.50 508.32,331.00 508.27,330.50 508.22,330.00 508.17,329.50 508.11,329.00 508.04,328.50 507.98,328.00 507.91,327.50 507.84,327.00 507.77,326.50 507.70,326.00 507.63,325.50 507.55,325.00 507.47,324.50 507.39,324.00 507.31,323.50 507.23,323.00 507.14,322.50 507.05,322.00 506.97,321.50 506.88,321.00 506.79,320.50 506.70,320.00 506.61,319.50 506.51,319.00 506.42,318.50 506.31,318.00 506.21,317.50 506.10,317.00 505.98,316.43 505.85,315.87 505.72,315.30 505.59,314.73 505.45,314.17 505.30,313.60 505.16,313.10 505.02,312.60 504.86,312.10 504.71,311.60 504.55,311.10 504.40,310.60 504.22,310.02 504.04,309.44 503.85,308.86 503.67,308.28 503.50,307.70 503.34,307.12 503.18,306.54 503.02,305.96 502.86,305.38 502.70,304.80 502.53,304.22 502.35,303.64 502.16,303.06 501.98,302.48 501.80,301.90 501.65,301.40 501.50,300.90 501.35,300.40 501.20,299.90 501.05,299.40 500.90,298.90 500.72,298.32 500.54,297.74 500.36,297.16 500.18,296.58 500.00,296.00 499.82,295.42 499.63,294.84 499.45,294.26 499.27,293.68 499.10,293.10 498.96,292.60 498.81,292.10 498.67,291.60 498.54,291.10 498.42,290.60 498.30,290.10 498.17,289.52 498.04,288.94 497.93,288.36 497.84,287.78 497.80,287.20 497.80,286.62 497.83,286.04 497.89,285.46 497.98,284.88 498.10,284.30 498.25,283.72 498.43,283.14 498.63,282.56 498.86,281.98 499.10,281.40 499.32,280.90 499.55,280.40 499.79,279.90 500.05,279.40 500.32,278.90 500.60,278.40 500.95,277.82 501.33,277.24 501.72,276.66 502.11,276.08 502.50,275.50 502.89,274.92 503.28,274.34 503.67,273.76 504.04,273.18 504.40,272.60 504.70,272.10 504.98,271.60 505.26,271.10 505.53,270.60 505.78,270.10 506.00,269.60 506.23,269.02 506.43,268.44 506.60,267.86 506.76,267.28 506.90,266.70 507.03,266.12 507.13,265.54 507.22,264.96 507.29,264.38 507.35,263.80 507.39,263.27 507.42,262.75 507.45,262.22 507.48,261.69 507.50,261.16 507.52,260.64 507.54,260.11 507.55,259.58 507.57,259.05 507.58,258.53 507.60,258.00 507.61,257.50 507.63,257.00 507.64,256.50 507.64,256.00 507.65,255.50 507.66,255.00 507.67,254.50 507.67,254.00 507.68,253.50 507.68,253.00 507.69,252.50 507.70,252.00 507.71,251.48 507.72,250.96 507.73,250.44 507.74,249.92 507.76,249.40 507.77,248.88 507.78,248.36 507.79,247.84 507.79,247.32 507.80,246.80" fill="#1f77b4" fill-opacity="0.3"/>
<polygon points="593.58,255.80 593.59,256.31 593.61,256.83 593.63,257.34 593.65,257.86 593.68,258.37 593.72,258.89 593.78,259.40 593.87,259.98 593.98,260.56 594.10,261.14 594.24,261.72 594.38,262.30 594.52,262.88 594.67,263.46 594.82,264.04 594.99,264.62 595.18,265.20 595.35,265.70 595.53,266.20 595.72,266.70 595.92,267.20 596.14,267.70 596.38,268.20 596.70,268.78 597.06,269.36 597.44,269.94 597.82,270.52 598.18,271.10 598.53,271.68 598.87,272.26 599.22,272.84 599.55,273.42 599.88,274.00 600.16,274.50 600.44,275.00 600.72,275.50 600.99,276.00 601.24,276.50 601.48,277.00 601.74,277.58 601.98,278.16 602.21,278.74 602.41,279.32 602.58,279.90 602.73,280.48 602.85,281.06 602.94,281.64 603.02,282.22 603.08,282.80 603.12,283.38 603.15,283.96 603.16,284.54 603.14,285.12 603.08,285.70 603.00,286.20 602.89,286.70 602.76,287.20 602.61,287.70 602.45,288.20 602.28,288.70 602.07,289.28 601.85,289.86 601.60,290.44 601.35,291.02 601.08,291.60 600.80,292.18 600.49,292.76 600.18,293.34 599.88,293.92 599.58,294.50 599.34,295.00 599.11,295.50 598.88,296.00 598.65,296.50 598.42,297.00 598.18,297.50 597.88,298.08 597.58,298.66 597.27,299.24 596.96,299.82 596.68,300.40 596.42,300.98 596.17,301.56 595.93,302.14 595.70,302.72 595.48,303.30 595.26,303.88 595.05,304.46 594.85,305.04 594.66,305.62 594.48,306.20 594.34,306.70 594.22,307.20 594.10,307.70 594.00,308.20 593.89,308.70 593.78,309.20 593.65,309.78 593.51,310.36 593.39,310.94 593.27,311.52 593.18,312.10 593.11,312.66 593.05,313.21 593.01,313.77 592.97,314.33 592.93,314.89 592.90,315.44 592.88,316.00 592.86,316.50 592.84,317.00 592.83,317.50 592.81,318.00 592.80,318.50 592.78,319.00 592.77,319.50 592.76,320.00 592.75,320.50 592.74,321.00 592.73,321.50 592.72,322.00 592.71,322.50 592.71,323.00 592.70,323.50 592.69,324.00 592.69,324.50 592.68,325.00 592.67,325.51 592.67,326.02 592.67,326.53 592.66,327.04 592.66,327.56 592.65,328.07 592.65,328.58 592.65,329.09 592.65,329.60 592.64,330.11 592.64,330.62 592.64,331.13 592.64,331.64 592.64,332.16 592.64,332.67 592.64,333.18 592.64,333.69 592.64,334.20 592.63,334.71 592.63,335.22 592.63,335.73 592.63,336.24 592.63,336.76 592.63,337.27 592.63,337.78 592.63,338.29 592.63,338.80 592.53,338.80 592.53,338.29 592.53,337.78 592.53,337.27 592.53,336.76 592.53,336.24 592.53,335.73 592.53,335.22 592.53,334.71 592.52,334.20 592.52,333.69 592.52,333.18 592.52,332.67 592.52,332.16 592.52,331.64 592.52,331.13 592.52,330.62 592.52,330.11 592.51,329.60 592.51,329.09 592.51,328.58 592.51,328.07 592.50,327.56 592.50,327.04 592.49,326.53 592.49,326.02 592.49,325.51 592.48,325.00 592.47,324.50 592.47,324.00 592.46,323.50 592.45,323.00 592.45,322.50 592.44,322.00 592.43,321.50 592.42,321.00 592.41,320.50 592.40,320.00 592.39,319.50 592.38,319.00 592.36,318.50 592.35,318.00 592.33,317.50 592.32,317.00 592.30,316.50 592.28,316.00 592.26,315.44 592.23,314.89 592.19,314.33 592.15,313.77 592.11,313.21 592.05,312.66 591.98,312.10 591.89,311.52 591.77,310.94 591.65,310.36 591.51,309.78 591.38,309.20 591.27,308.70 591.16,308.20 591.06,307.70 590.94,307.20 590.82,306.70 590.68,306.20 590.50,305.62 590.31,305.04 590.11,304.46 589.90,303.88 589.68,303.30 589.46,302.72 589.23,302.14 588.99,301.56 588.74,300.98 588.48,300.40 588.20,299.82 587.89,299.24 587.58,298.66 587.28,298.08 586.98,297.50 586.74,297.00 586.51,296.50 586.28,296.00 586.05,295.50 585.82,295.00 585.58,294.50 585.28,293.92 584.98,293.34 584.67,292.76 584.36,292.18 584.08,291.60 583.81,291.02 583.56,290.44 583.31,289.86 583.09,289.28 582.88,288.70 582.71,288.20 582.55,287.70 582.40,287.20 582.27,286.70 582.16,286.20 582.08,285.70 582.02,285.12 582.00,284.54 582.01,283.96 582.04,283.38 582.08,282.80 582.14,282.22 582.22,281.64 582.31,281.06 582.43,280.48 582.58,279.90 582.75,279.32 582.95,278.74 583.18,278.16 583.42,277.58 583.68,277.00 583.92,276.50 584.17,276.00 584.44,275.50 584.72,275.00 585.00,274.50 585.28,274.00 585.61,273.42 585.94,272.84 586.29,272.26 586.63,271.68 586.98,271.10 587.34,270.52 587.72,269.94 588.10,269.36 588.46,268.78 588.78,268.20 589.02,267.70 589.24,267.20 589.44,266.70 589.63,266.20 589.81,265.70 589.98,265.20 590.17,264.62 590.34,264.04 590.49,263.46 590.64,262.88 590.78,262.30 590.92,261.72 591.06,261.14 591.18,260.56 591.29,259.98 591.38,259.40 591.44,258.89 591.48,258.37 591.51,257.86 591.53,257.34 591.55,256.83 591.57,256.31 591.58,255.80" fill="#ff7f0e" fill-opacity="0.3"/>
<polygon points="637.07,242.50 637.12,242.80 637.27,243.10 637.79,243.65 638.37,244.20 638.95,244.75 639.47,245.30 639.96,245.88 640.42,246.46 640.86,247.04 641.28,247.62 641.67,248.20 641.99,248.70 642.30,249.20 642.58,249.70 642.86,250.20 643.12,250.70 643.37,251.20 643.65,251.78 643.91,252.36 644.15,252.94 644.38,253.52 644.57,254.10 644.73,254.68 644.87,255.26 644.98,255.84 645.08,256.42 645.17,257.00 645.24,257.50 645.31,258.00 645.37,258.50 645.42,259.00 645.45,259.50 645.47,260.00 645.47,260.58 645.45,261.16 645.41,261.74 645.35,262.32 645.27,262.90 645.17,263.48 645.06,264.06 644.93,264.64 644.77,265.22 644.57,265.80 644.32,266.38 644.03,266.96 643.72,267.54 643.39,268.12 643.07,268.70 642.79,269.20 642.51,269.70 642.23,270.20 641.94,270.70 641.65,271.20 641.37,271.70 641.04,272.28 640.71,272.86 640.39,273.44 640.07,274.02 639.77,274.60 639.49,275.18 639.22,275.76 638.97,276.34 638.72,276.92 638.47,277.50 638.26,278.00 638.04,278.50 637.83,279.00 637.63,279.50 637.44,280.00 637.27,280.50 637.09,281.08 636.94,281.66 636.80,282.24 636.68,282.82 636.57,283.40 636.48,283.98 636.42,284.56 636.36,285.14 636.32,285.72 636.27,286.30 636.22,286.88 636.18,287.46 636.14,288.04 636.11,288.62 636.07,289.20 636.04,289.70 636.00,290.20 635.97,290.70 635.94,291.20 635.90,291.70 635.87,292.20 635.83,292.78 635.79,293.36 635.75,293.94 635.71,294.52 635.67,295.10 635.63,295.66 635.59,296.21 635.55,296.77 635.51,297.33 635.46,297.89 635.42,298.44 635.37,299.00 635.32,299.50 635.27,300.00 635.22,300.50 635.16,301.00 635.11,301.50 635.06,302.00 635.01,302.50 634.97,303.00 634.93,303.50 634.89,304.00 634.86,304.50 634.82,305.00 634.79,305.50 634.76,306.00 634.73,306.50 634.71,307.00 634.69,307.50 634.67,308.00 634.66,308.51 634.64,309.03 634.63,309.54 634.62,310.06 634.61,310.57 634.60,311.09 634.59,311.60 634.58,312.11 634.58,312.63 634.57,313.14 634.56,313.66 634.56,314.17 634.55,314.69 634.55,315.20 634.54,315.71 634.54,316.23 634.53,316.74 634.53,317.26 634.53,317.77 634.52,318.29 634.52,318.80 634.42,318.80 634.42,318.29 634.41,317.77 634.41,317.26 634.41,316.74 634.40,316.23 634.40,315.71 634.39,315.20 634.39,314.69 634.38,314.17 634.38,313.66 634.37,313.14 634.36,312.63 634.36,312.11 634.35,311.60 634.34,311.09 634.33,310.57 634.32,310.06 634.31,309.54 634.30,309.03 634.28,308.51 634.27,308.00 634.25,307.50 634.23,307.00 634.21,306.50 634.18,306.00 634.15,305.50 634.12,305.00 634.08,304.50 634.05,304.00 634.01,303.50 633.97,303.00 633.93,302.50 633.88,302.00 633.83,301.50 633.78,301.00 633.72,300.50 633.67,300.00 633.62,299.50 633.57,299.00 633.52,298.44 633.48,297.89 633.43,297.33 633.39,296.77 633.35,296.21 633.31,295.66 633.27,295.10 633.23,294.52 633.19,293.94 633.15,293.36 633.11,292.78 633.07,292.20 633.04,291.70 633.00,291.20 632.97,290.70 632.94,290.20 632.90,289.70 632.87,289.20 632.83,288.62 632.80,288.04 632.76,287.46 632.72,286.88 632.67,286.30 632.62,285.72 632.58,285.14 632.52,284.56 632.46,283.98 632.37,283.40 632.26,282.82 632.14,282.24 632.00,281.66 631.85,281.08 631.67,280.50 631.50,280.00 631.31,279.50 631.11,279.00 630.90,278.50 630.68,278.00 630.47,277.50 630.22,276.92 629.97,276.34 629.72,275.76 629.45,275.18 629.17,274.60 628.87,274.02 628.55,273.44 628.23,272.86 627.90,272.28 627.57,271.70 627.29,271.20 627.00,270.70 626.71,270.20 626.43,269.70 626.15,269.20 625.87,268.70 625.55,268.12 625.22,267.54 624.91,266.96 624.62,266.38 624.37,265.80 624.17,265.22 624.01,264.64 623.88,264.06 623.77,263.48 623.67,262.90 623.59,262.32 623.53,261.74 623.49,261.16 623.47,260.58 623.47,260.00 623.49,259.50 623.52,259.00 623.57,258.50 623.63,258.00 623.70,257.50 623.77,257.00 623.86,256.42 623.96,255.84 624.07,255.26 624.21,254.68 624.37,254.10 624.56,253.52 624.79,252.94 625.03,252.36 625.29,251.78 625.57,251.20 625.82,250.70 626.08,250.20 626.36,249.70 626.64,249.20 626.95,248.70 627.27,248.20 627.66,247.62 628.08,247.04 628.52,246.46 628.98,245.88 629.47,245.30 629.99,244.75 630.57,244.20 631.15,243.65 631.67,243.10 631.82,242.80 631.87,242.50" fill="#2ca02c" fill-opacity="0.3"/>
<line x1="89.90" y1="229.8" x2="89.90" y2="392.0" stroke="#b0b0b0" stroke-width="0.8"/>
<line x1="131.79" y1="229.8" x2="131.79" y2="392.0" stroke="#b0b0b0" stroke-width="0.8"/>
<line x1="173.68" y1="229.8" x2="173.68" y2="392.0" stroke="#b0b0b0" stroke-width="0.8"/>
<line x1="215.57" y1="229.8" x2="215.57" y2="392.0" stroke="#b0b0b0" stroke-width="0.8"/>
<line x1="257.46" y1="229.8" x2="257.46" y2="392.0" stroke="#b0b0b0" stroke-width="0.8"/>
<line x1="299.35" y1="229.8" x2="299.35" y2="392.0" stroke="#b0b0b0" stroke-width="0.8"/>
<line x1="341.24" y1="229.8" x2="341.24" y2="392.0" stroke="#b0b0b0" stroke-width="0.8"/>
<line x1="383.13" y1="229.8" x2="383.13" y2="392.0" stroke="#b0b0b0" stroke-width="0.8"/>
<line x1="425.02" y1="229.8" x2="425.02" y2="392.0" stroke="#b0b0b0" stroke-width="0.8"/>
<line x1="466.91" y1="229.8" x2="466.91" y2="392.0" stroke="#b0b0b0" stroke-width="0.8"/>
<line x1="508.80" y1="229.8" x2="508.80" y2="392.0" stroke="#b0b0b0" stroke-width="0.8"/>
<line x1="550.69" y1="229.8" x2="550.69" y2="392.0" stroke="#b0b0b0" stroke-width="0.8"/>
<line x1="592.58" y1="229.8" x2="592.58" y2="392.0" stroke="#b0b0b0" stroke-width="0.8"/>
<line x1="634.47" y1="229.8" x2="634.47" y2="392.0" stroke="#b0b0b0" stroke-width="0.8"/>
<line x1="51.0" y1="241.40" x2="676.5" y2="241.40" stroke="#b0b0b0" stroke-width="0.8"/>
<line x1="51.0" y1="265.92" x2="676.5" y2="265.92" stroke="#b0b0b0" stroke-width="0.8"/>
<line x1="51.0" y1="290.44" x2="676.5" y2="290.44" stroke="#b0b0b0" stroke-width="0.8"/>
<line x1="51.0" y1="314.96" x2="676.5" y2="314.96" stroke="#b0b0b0" stroke-width="0.8"/>
<line x1="51.0" y1="339.48" x2="676.5" y2="339.48" stroke="#b0b0b0" stroke-width="0.8"/>
<line x1="51.0" y1="364.00" x2="676.5" y2="364.00" stroke="#b0b0b0" stroke-width="0.8"/>
<line x1="51.0" y1="388.52" x2="676.5" y2="388.52" stroke="#b0b0b0" stroke-width="0.8"/>
<line x1="89.90" y1="285.0" x2="89.90" y2="384.6" stroke="#000" stroke-width="1.5"/>
<line x1="84.70" y1="285.0" x2="95.10" y2="285.0" stroke="#000" stroke-width="1.5"/>
<line x1="84.70" y1="384.6" x2="95.10" y2="384.6" stroke="#000" stroke-width="1.5"/>
<line x1="84.70" y1="322.2" x2="95.10" y2="322.2" stroke="#000" stroke-width="1.5"/>
<line x1="131.79" y1="239.1" x2="131.79" y2="317.7" stroke="#000" stroke-width="1.5"/>
<line x1="126.59" y1="239.1" x2="136.99" y2="239.1" stroke="#000" stroke-width="1.5"/>
<line x1="126.59" y1="317.7" x2="136.99" y2="317.7" stroke="#000" stroke-width="1.5"/>
<line x1="126.59" y1="263.4" x2="136.99" y2="263.4" stroke="#000" stroke-width="1.5"/>
<line x1="173.68" y1="281.5" x2="173.68" y2="368.0" stroke="#000" stroke-width="1.5"/>
<line x1="168.48" y1="281.5" x2="178.88" y2="281.5" stroke="#000" stroke-width="1.5"/>
<line x1="168.48" y1="368.0" x2="178.88" y2="368.0" stroke="#000" stroke-width="1.5"/>
<line x1="168.48" y1="320.2" x2="178.88" y2="320.2" stroke="#000" stroke-width="1.5"/>
<line x1="257.46" y1="286.5" x2="257.46" y2="365.9" stroke="#000" stroke-width="1.5"/>
<line x1="252.26" y1="286.5" x2="262.66" y2="286.5" stroke="#000" stroke-width="1.5"/>
<line x1="252.26" y1="365.9" x2="262.66" y2="365.9" stroke="#000" stroke-width="1.5"/>
<line x1="252.26" y1="319.3" x2="262.66" y2="319.3" stroke="#000" stroke-width="1.5"/>
<line x1="299.35" y1="239.8" x2="299.35" y2="310.4" stroke="#000" stroke-width="1.5"/>
<line x1="294.15" y1="239.8" x2="304.55" y2="239.8" stroke="#000" stroke-width="1.5"/>
<line x1="294.15" y1="310.4" x2="304.55" y2="310.4" stroke="#000" stroke-width="1.5"/>
<line x1="294.15" y1="264.0" x2="304.55" y2="264.0" stroke="#000" stroke-width="1.5"/>
<line x1="341.24" y1="281.2" x2="341.24" y2="355.8" stroke="#000" stroke-width="1.5"/>
<line x1="336.04" y1="281.2" x2="346.44" y2="281.2" stroke="#000" stroke-width="1.5"/>
<line x1="336.04" y1="355.8" x2="346.44" y2="355.8" stroke="#000" stroke-width="1.5"/>
<line x1="336.04" y1="318.3" x2="346.44" y2="318.3" stroke="#000" stroke-width="1.5"/>
<line x1="425.02" y1="246.4" x2="425.02" y2="348.0" stroke="#000" stroke-width="1.5"/>
<line x1="419.82" y1="246.4" x2="430.22" y2="246.4" stroke="#000" stroke-width="1.5"/>
<line x1="419.82" y1="348.0" x2="430.22" y2="348.0" stroke="#000" stroke-width="1.5"/>
<line x1="419.82" y1="293.4" x2="430.22" y2="293.4" stroke="#000" stroke-width="1.5"/>
<line x1="466.91" y1="236.9" x2="466.91" y2="315.9" stroke="#000" stroke-width="1.5"/>
<line x1="461.71" y1="236.9" x2="472.11" y2="236.9" stroke="#000" stroke-width="1.5"/>
<line x1="461.71" y1="315.9" x2="472.11" y2="315.9" stroke="#000" stroke-width="1.5"/>
<line x1="461.71" y1="266.4" x2="472.11" y2="266.4" stroke="#000" stroke-width="1.5"/>
<line x1="508.80" y1="246.3" x2="508.80" y2="355.3" stroke="#000" stroke-width="1.5"/>
<line x1="503.60" y1="246.3" x2="514.00" y2="246.3" stroke="#000" stroke-width="1.5"/>
<line x1="503.60" y1="355.3" x2="514.00" y2="355.3" stroke="#000" stroke-width="1.5"/>
<line x1="503.60" y1="291.2" x2="514.00" y2="291.2" stroke="#000" stroke-width="1.5"/>
<line x1="592.58" y1="255.3" x2="592.58" y2="339.3" stroke="#000" stroke-width="1.5"/>
<line x1="587.38" y1="255.3" x2="597.78" y2="255.3" stroke="#000" stroke-width="1.5"/>
<line x1="587.38" y1="339.3" x2="597.78" y2="339.3" stroke="#000" stroke-width="1.5"/>
<line x1="587.38" y1="284.9" x2="597.78" y2="284.9" stroke="#000" stroke-width="1.5"/>
<line x1="634.47" y1="242.0" x2="634.47" y2="319.3" stroke="#000" stroke-width="1.5"/>
<line x1="629.27" y1="242.0" x2="639.67" y2="242.0" stroke="#000" stroke-width="1.5"/>
<line x1="629.27" y1="319.3" x2="639.67" y2="319.3" stroke="#000" stroke-width="1.5"/>
<line x1="629.27" y1="263.4" x2="639.67" y2="263.4" stroke="#000" stroke-width="1.5"/>
<line x1="215.57" y1="229.80" x2="215.57" y2="392.00" stroke="#000" stroke-width="1.5" />
<line x1="383.13" y1="229.80" x2="383.13" y2="392.00" stroke="#000" stroke-width="1.5" />
<line x1="550.69" y1="229.80" x2="550.69" y2="392.00" stroke="#000" stroke-width="1.5" />
<rect x="416.0" y="370.3" width="255.3" height="16.4" rx="2.5" fill="#fff" fill-opacity="0.8" stroke="#cccccc" stroke-width="0.8"/>
<rect x="418.9" y="374.2" width="20.30" height="7.3" fill="#ff7f0e" fill-opacity="0.3"/>
<rect x="505.4" y="374.2" width="20.50" height="7.3" fill="#2ca02c" fill-opacity="0.3"/>
<rect x="597.1" y="374.2" width="20.00" height="7.3" fill="#1f77b4" fill-opacity="0.3"/>
<rect x="51.0" y="229.8" width="625.50" height="162.20" fill="none" stroke="#000" stroke-width="1.0"/>
<line x1="89.90" y1="392.00" x2="89.90" y2="395.50" stroke="#000" stroke-width="0.8" />
<line x1="131.79" y1="392.00" x2="131.79" y2="395.50" stroke="#000" stroke-width="0.8" />
<line x1="173.68" y1="392.00" x2="173.68" y2="395.50" stroke="#000" stroke-width="0.8" />
<line x1="215.57" y1="392.00" x2="215.57" y2="395.50" stroke="#000" stroke-width="0.8" />
<line x1="257.46" y1="392.00" x2="257.46" y2="395.50" stroke="#000" stroke-width="0.8" />
<line x1="299.35" y1="392.00" x2="299.35" y2="395.50" stroke="#000" stroke-width="0.8" />
<line x1="341.24" y1="392.00" x2="341.24" y2="395.50" stroke="#000" stroke-width="0.8" />
<line x1="383.13" y1="392.00" x2="383.13" y2="395.50" stroke="#000" stroke-width="0.8" />
<line x1="425.02" y1="392.00" x2="425.02" y2="395.50" stroke="#000" stroke-width="0.8" />
<line x1="466.91" y1="392.00" x2="466.91" y2="395.50" stroke="#000" stroke-width="0.8" />
<line x1="508.80" y1="392.00" x2="508.80" y2="395.50" stroke="#000" stroke-width="0.8" />
<line x1="550.69" y1="392.00" x2="550.69" y2="395.50" stroke="#000" stroke-width="0.8" />
<line x1="592.58" y1="392.00" x2="592.58" y2="395.50" stroke="#000" stroke-width="0.8" />
<line x1="634.47" y1="392.00" x2="634.47" y2="395.50" stroke="#000" stroke-width="0.8" />
<line x1="676.36" y1="392.00" x2="676.36" y2="395.50" stroke="#000" stroke-width="0.8" />
<line x1="47.50" y1="241.40" x2="51.00" y2="241.40" stroke="#000" stroke-width="0.8" />
<line x1="47.50" y1="265.92" x2="51.00" y2="265.92" stroke="#000" stroke-width="0.8" />
<line x1="47.50" y1="290.44" x2="51.00" y2="290.44" stroke="#000" stroke-width="0.8" />
<line x1="47.50" y1="314.96" x2="51.00" y2="314.96" stroke="#000" stroke-width="0.8" />
<line x1="47.50" y1="339.48" x2="51.00" y2="339.48" stroke="#000" stroke-width="0.8" />
<line x1="47.50" y1="364.00" x2="51.00" y2="364.00" stroke="#000" stroke-width="0.8" />
<line x1="47.50" y1="388.52" x2="51.00" y2="388.52" stroke="#000" stroke-width="0.8" />
<g opacity="0.999">
<text transform="translate(63.93,190.80) scale(1.0115,1)" font-size="10.2">86</text>
<text transform="translate(101.60,190.80) scale(1.0115,1)" font-size="10.2">88</text>
<text transform="translate(139.26,190.80) scale(1.0115,1)" font-size="10.2">90</text>
<text transform="translate(176.93,190.80) scale(1.0115,1)" font-size="10.2">92</text>
<text transform="translate(214.60,190.80) scale(1.0115,1)" font-size="10.2">94</text>
<text transform="translate(252.26,190.80) scale(1.0115,1)" font-size="10.2">96</text>
<text transform="translate(289.93,190.80) scale(1.0115,1)" font-size="10.2">98</text>
<text transform="translate(324.60,190.80) scale(1.0270,1)" font-size="10.2">100</text>
<text transform="translate(38.40,180.80) scale(0.9333,1)" font-size="10.2">0</text>
<text transform="translate(26.20,142.18) scale(1.0270,1)" font-size="10.2">200</text>
<text transform="translate(26.20,103.56) scale(1.0270,1)" font-size="10.2">400</text>
<text transform="translate(26.20,64.94) scale(1.0270,1)" font-size="10.2">600</text>
<text transform="translate(26.20,26.32) scale(1.0270,1)" font-size="10.2">800</text>
<text transform="translate(94.60,144.20) scale(1.0115,1)" font-size="10.2">97</text>
<text transform="translate(140.77,144.20) scale(1.0115,1)" font-size="10.2">98</text>
<text transform="translate(186.94,144.20) scale(1.0115,1)" font-size="10.2">99</text>
<text transform="translate(230.11,144.20) scale(1.0270,1)" font-size="10.2">100</text>
<text transform="translate(87.30,134.00) scale(0.9333,1)" font-size="10.2">0</text>
<text transform="translate(75.10,95.20) scale(1.0270,1)" font-size="10.2">500</text>
<text transform="translate(64.90,163.80) scale(0.9375,1)" font-size="11.2">V</text>
<text transform="translate(178.70,163.80) scale(0.7714,1)" font-size="11.2">P</text>
<text transform="translate(94.60,163.70) scale(0.7500,1)" font-size="11.2">H</text>
<text transform="translate(122.70,163.70) scale(0.7250,1)" font-size="11.2">U</text>
<text transform="translate(150.85,163.70) scale(0.8111,1)" font-size="11.2">M</text>
<text transform="translate(86.90,30.50) scale(1.1036,1)" font-size="9.5">Graybox</text>
<text transform="translate(86.90,44.60) scale(1.1342,1)" font-size="9.5">Whitebox</text>
<text transform="translate(86.90,58.70) scale(1.1057,1)" font-size="9.5">Blackbox</text>
<text transform="translate(150.10,8.80) scale(1.1280,1)" font-size="11.6">Output Control</text>
<text transform="translate(32.00,8.20) scale(0.9983,1)" font-size="11.0" font-weight="bold">a)</text>
<text transform="translate(165.80,203.90) scale(1.1197,1)" font-size="9.6">Fidelity (%)</text>
<text transform="translate(20.70,112.10) rotate(-90) scale(1.0346,1)" font-size="10.2">Counts</text>
<text transform="translate(406.67,190.80) scale(1.0115,1)" font-size="10.2">86</text>
<text transform="translate(444.40,190.80) scale(1.0115,1)" font-size="10.2">88</text>
<text transform="translate(482.13,190.80) scale(1.0115,1)" font-size="10.2">90</text>
<text transform="translate(519.87,190.80) scale(1.0115,1)" font-size="10.2">92</text>
<text transform="translate(557.60,190.80) scale(1.0115,1)" font-size="10.2">94</text>
<text transform="translate(595.34,190.80) scale(1.0115,1)" font-size="10.2">96</text>
<text transform="translate(633.07,190.80) scale(1.0115,1)" font-size="10.2">98</text>
<text transform="translate(667.80,190.80) scale(1.0270,1)" font-size="10.2">100</text>
<text transform="translate(381.10,180.80) scale(0.9333,1)" font-size="10.2">0</text>
<text transform="translate(368.90,149.00) scale(1.0270,1)" font-size="10.2">100</text>
<text transform="translate(368.90,117.20) scale(1.0270,1)" font-size="10.2">200</text>
<text transform="translate(368.90,85.40) scale(1.0270,1)" font-size="10.2">300</text>
<text transform="translate(368.90,53.60) scale(1.0270,1)" font-size="10.2">400</text>
<text transform="translate(368.90,21.80) scale(1.0270,1)" font-size="10.2">500</text>
<text transform="translate(419.60,144.20) scale(1.0115,1)" font-size="10.2">97</text>
<text transform="translate(465.77,144.20) scale(1.0115,1)" font-size="10.2">98</text>
<text transform="translate(511.94,144.20) scale(1.0115,1)" font-size="10.2">99</text>
<text transform="translate(555.11,144.20) scale(1.0270,1)" font-size="10.2">100</text>
<text transform="translate(412.30,134.00) scale(0.9333,1)" font-size="10.2">0</text>
<text transform="translate(400.10,108.50) scale(1.0270,1)" font-size="10.2">200</text>
<text transform="translate(400.10,83.00) scale(1.0270,1)" font-size="10.2">400</text>
<text transform="translate(407.60,163.80) scale(0.9375,1)" font-size="11.2">V</text>
<text transform="translate(521.40,163.80) scale(0.7714,1)" font-size="11.2">P</text>
<text transform="translate(437.30,163.70) scale(0.7500,1)" font-size="11.2">H</text>
<text transform="translate(465.40,163.70) scale(0.7250,1)" font-size="11.2">U</text>
<text transform="translate(493.55,163.70) scale(0.8111,1)" font-size="11.2">M</text>
<text transform="translate(429.60,30.50) scale(1.1036,1)" font-size="9.5">Graybox</text>
<text transform="translate(429.60,44.60) scale(1.1342,1)" font-size="9.5">Whitebox</text>
<text transform="translate(491.60,8.80) scale(1.1311,1)" font-size="11.6">Unitary Control</text>
<text transform="translate(375.00,8.20) scale(0.9516,1)" font-size="11.0" font-weight="bold">b)</text>
<text transform="translate(508.50,203.90) scale(1.1197,1)" font-size="9.6">Fidelity (%)</text>
<text transform="translate(363.40,112.10) rotate(-90) scale(1.0346,1)" font-size="10.2">Counts</text>
<text transform="translate(446.80,381.50) scale(1.1064,1)" font-size="9.5">Graybox</text>
<text transform="translate(532.60,381.50) scale(1.1317,1)" font-size="9.5">Whitebox</text>
<text transform="translate(624.70,381.50) scale(1.1057,1)" font-size="9.5">Blackbox</text>
<text transform="translate(14.50,246.10) scale(1.0494,1)" font-size="11.0">1e-01</text>
<text transform="translate(14.50,270.62) scale(1.0494,1)" font-size="11.0">1e-02</text>
<text transform="translate(14.50,295.14) scale(1.0494,1)" font-size="11.0">1e-03</text>
<text transform="translate(14.50,319.66) scale(1.0494,1)" font-size="11.0">1e-04</text>
<text transform="translate(14.50,344.18) scale(1.0494,1)" font-size="11.0">1e-05</text>
<text transform="translate(14.50,368.70) scale(1.0494,1)" font-size="11.0">1e-06</text>
<text transform="translate(14.50,393.22) scale(1.0494,1)" font-size="11.0">1e-07</text>
<text transform="translate(111.00,406.90) scale(1.1036,1)" font-size="10.8">Training</text>
<text transform="translate(280.70,406.90) scale(1.1197,1)" font-size="10.8">Testing</text>
<text transform="translate(428.00,406.90) scale(1.1172,1)" font-size="10.8">Output Control</text>
<text transform="translate(594.70,406.90) scale(1.1130,1)" font-size="10.8">Unitary Control</text>
<text transform="translate(31.80,223.10) scale(0.9488,1)" font-size="11.0" font-weight="bold">c)</text>
<text transform="translate(7.70,321.10) rotate(-90) scale(0.9682,1)" font-size="10.0">MSE</text>
</g>
</svg></body></html>
